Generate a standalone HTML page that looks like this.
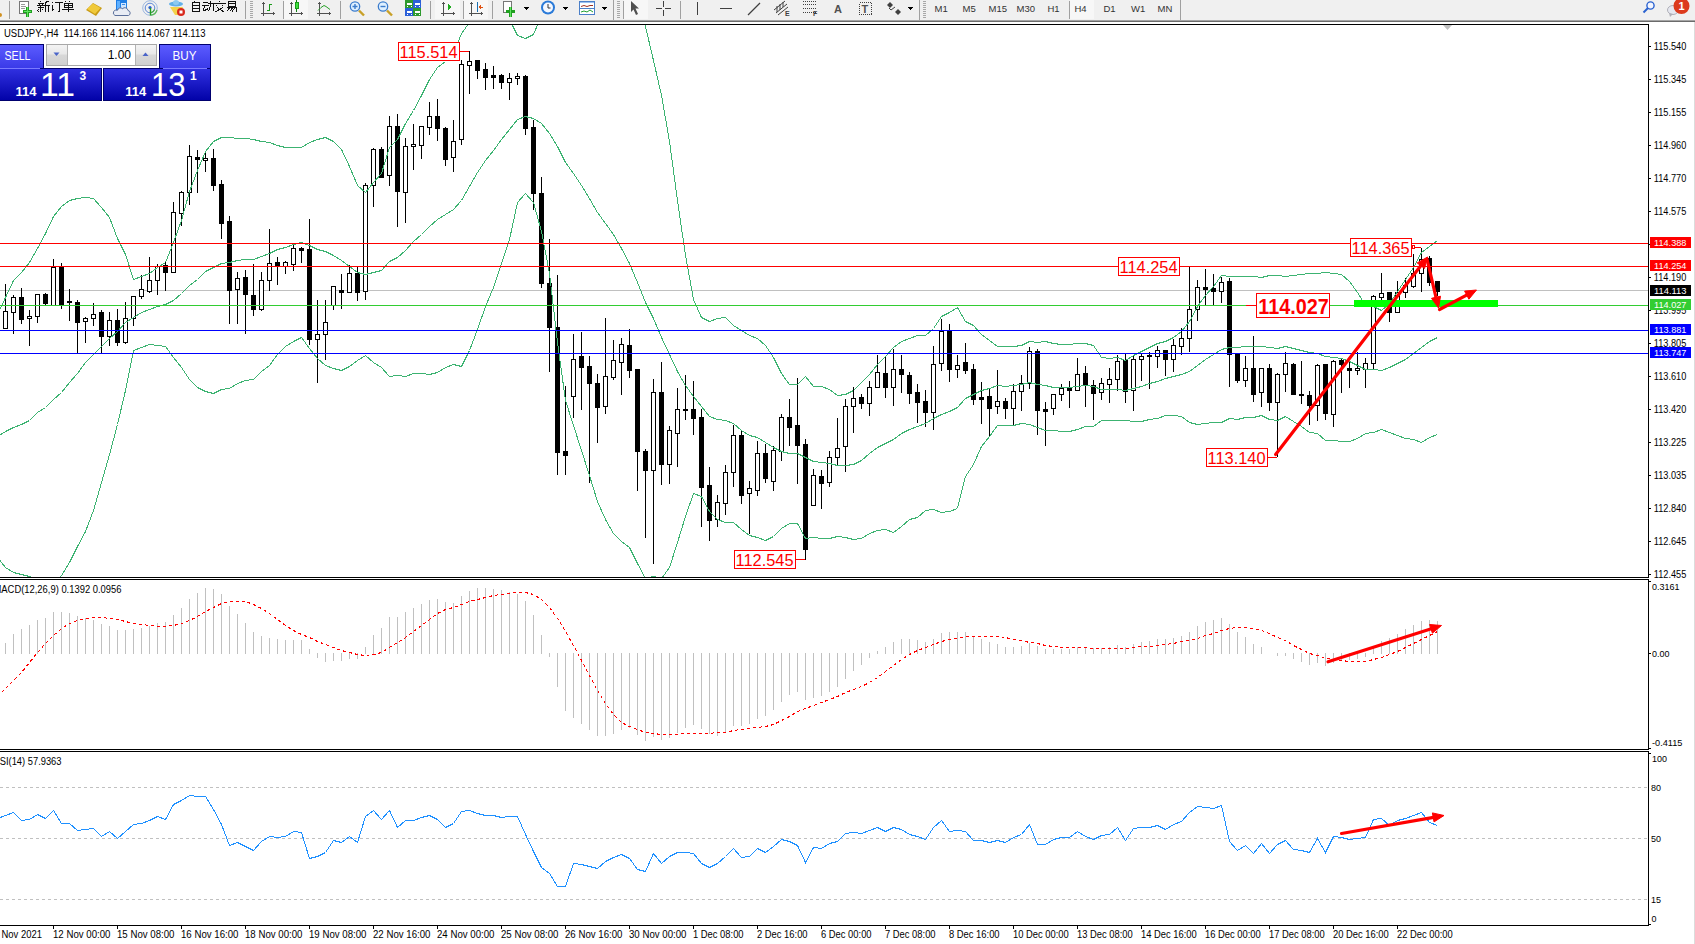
<!DOCTYPE html><html><head><meta charset="utf-8"><title>USDJPY H4</title><style>html,body{margin:0;padding:0;background:#fff;width:1695px;height:944px;overflow:hidden}svg text{font-family:'Liberation Sans',sans-serif}</style></head><body><svg width="1695" height="944" viewBox="0 0 1695 944" style="display:block;font-family:'Liberation Sans',sans-serif" shape-rendering="crispEdges">
<defs><clipPath id="cm"><rect x="0" y="25" width="1648" height="552"/></clipPath><clipPath id="cd"><rect x="0" y="580" width="1648" height="169"/></clipPath><clipPath id="cr"><rect x="0" y="752" width="1648" height="173"/></clipPath><linearGradient id="gSell" x1="0" y1="0" x2="0" y2="1"><stop offset="0" stop-color="#5b5bff"/><stop offset="1" stop-color="#3a3ae8"/></linearGradient><linearGradient id="gPrice" x1="0" y1="0" x2="0" y2="1"><stop offset="0" stop-color="#3030e0"/><stop offset="1" stop-color="#0202a8"/></linearGradient><linearGradient id="gBtn" x1="0" y1="0" x2="0" y2="1"><stop offset="0" stop-color="#f4f4f4"/><stop offset="0.45" stop-color="#e8e8e8"/><stop offset="0.5" stop-color="#d8d8d8"/><stop offset="1" stop-color="#d0d0d0"/></linearGradient></defs>
<rect x="0" y="0" width="1695" height="944" fill="#ffffff"/>
<rect x="0" y="0" width="1695" height="20" fill="#f0f0f0"/>
<rect x="0" y="20" width="1695" height="1" fill="#a5a5a5"/>
<rect x="0" y="21" width="1695" height="1" fill="#6b6b6b"/>
<rect x="0" y="24" width="1649" height="1" fill="#000"/>
<rect x="1648" y="24" width="1" height="554" fill="#000"/>
<rect x="0" y="577" width="1649" height="1" fill="#000"/>
<rect x="0" y="579" width="1649" height="1" fill="#000"/>
<rect x="1648" y="579" width="1" height="171" fill="#000"/>
<rect x="0" y="749" width="1649" height="1" fill="#000"/>
<rect x="0" y="751" width="1649" height="1" fill="#000"/>
<rect x="1648" y="751" width="1" height="175" fill="#000"/>
<rect x="0" y="925" width="1649" height="1" fill="#000"/>
<rect x="1694" y="22" width="1" height="922" fill="#dcdcdc"/>
<g clip-path="url(#cm)">
<rect x="0" y="290" width="1648" height="1" fill="#c0c0c0"/>
<rect x="5" y="284" width="1" height="45" fill="#000"/>
<rect x="3" y="311" width="5" height="18" fill="#000"/>
<rect x="4" y="312" width="3" height="16" fill="#fff"/>
<rect x="13" y="295" width="1" height="39" fill="#000"/>
<rect x="11" y="297" width="5" height="16" fill="#000"/>
<rect x="12" y="298" width="3" height="14" fill="#fff"/>
<rect x="21" y="288" width="1" height="36" fill="#000"/>
<rect x="19" y="297" width="5" height="23" fill="#000"/>
<rect x="29" y="310" width="1" height="36" fill="#000"/>
<rect x="27" y="316" width="5" height="3" fill="#000"/>
<rect x="28" y="317" width="3" height="1" fill="#fff"/>
<rect x="37" y="294" width="1" height="29" fill="#000"/>
<rect x="35" y="294" width="5" height="23" fill="#000"/>
<rect x="36" y="295" width="3" height="21" fill="#fff"/>
<rect x="45" y="293" width="1" height="13" fill="#000"/>
<rect x="43" y="294" width="5" height="10" fill="#000"/>
<rect x="53" y="259" width="1" height="47" fill="#000"/>
<rect x="51" y="267" width="5" height="39" fill="#000"/>
<rect x="52" y="268" width="3" height="37" fill="#fff"/>
<rect x="61" y="263" width="1" height="46" fill="#000"/>
<rect x="59" y="267" width="5" height="38" fill="#000"/>
<rect x="69" y="289" width="1" height="32" fill="#000"/>
<rect x="67" y="301" width="5" height="2" fill="#000"/>
<rect x="77" y="300" width="1" height="54" fill="#000"/>
<rect x="75" y="302" width="5" height="21" fill="#000"/>
<rect x="85" y="317" width="1" height="26" fill="#000"/>
<rect x="83" y="318" width="5" height="4" fill="#000"/>
<rect x="84" y="319" width="3" height="2" fill="#fff"/>
<rect x="93" y="303" width="1" height="23" fill="#000"/>
<rect x="91" y="314" width="5" height="5" fill="#000"/>
<rect x="92" y="315" width="3" height="3" fill="#fff"/>
<rect x="101" y="310" width="1" height="44" fill="#000"/>
<rect x="99" y="312" width="5" height="25" fill="#000"/>
<rect x="109" y="312" width="1" height="34" fill="#000"/>
<rect x="107" y="320" width="5" height="17" fill="#000"/>
<rect x="108" y="321" width="3" height="15" fill="#fff"/>
<rect x="117" y="309" width="1" height="37" fill="#000"/>
<rect x="115" y="320" width="5" height="23" fill="#000"/>
<rect x="125" y="302" width="1" height="42" fill="#000"/>
<rect x="123" y="318" width="5" height="25" fill="#000"/>
<rect x="124" y="319" width="3" height="23" fill="#fff"/>
<rect x="133" y="296" width="1" height="30" fill="#000"/>
<rect x="131" y="296" width="5" height="23" fill="#000"/>
<rect x="132" y="297" width="3" height="21" fill="#fff"/>
<rect x="141" y="275" width="1" height="24" fill="#000"/>
<rect x="139" y="289" width="5" height="8" fill="#000"/>
<rect x="140" y="290" width="3" height="6" fill="#fff"/>
<rect x="149" y="257" width="1" height="36" fill="#000"/>
<rect x="147" y="280" width="5" height="12" fill="#000"/>
<rect x="148" y="281" width="3" height="10" fill="#fff"/>
<rect x="157" y="264" width="1" height="31" fill="#000"/>
<rect x="155" y="266" width="5" height="15" fill="#000"/>
<rect x="156" y="267" width="3" height="13" fill="#fff"/>
<rect x="165" y="261" width="1" height="30" fill="#000"/>
<rect x="163" y="265" width="5" height="8" fill="#000"/>
<rect x="173" y="202" width="1" height="71" fill="#000"/>
<rect x="171" y="212" width="5" height="61" fill="#000"/>
<rect x="172" y="213" width="3" height="59" fill="#fff"/>
<rect x="181" y="191" width="1" height="35" fill="#000"/>
<rect x="179" y="192" width="5" height="22" fill="#000"/>
<rect x="180" y="193" width="3" height="20" fill="#fff"/>
<rect x="189" y="145" width="1" height="60" fill="#000"/>
<rect x="187" y="156" width="5" height="37" fill="#000"/>
<rect x="188" y="157" width="3" height="35" fill="#fff"/>
<rect x="197" y="150" width="1" height="43" fill="#000"/>
<rect x="195" y="157" width="5" height="3" fill="#000"/>
<rect x="205" y="151" width="1" height="21" fill="#000"/>
<rect x="203" y="158" width="5" height="3" fill="#000"/>
<rect x="204" y="159" width="3" height="1" fill="#fff"/>
<rect x="213" y="149" width="1" height="42" fill="#000"/>
<rect x="211" y="158" width="5" height="28" fill="#000"/>
<rect x="221" y="180" width="1" height="59" fill="#000"/>
<rect x="219" y="184" width="5" height="40" fill="#000"/>
<rect x="229" y="216" width="1" height="108" fill="#000"/>
<rect x="227" y="221" width="5" height="70" fill="#000"/>
<rect x="237" y="272" width="1" height="52" fill="#000"/>
<rect x="235" y="278" width="5" height="12" fill="#000"/>
<rect x="236" y="279" width="3" height="10" fill="#fff"/>
<rect x="245" y="270" width="1" height="64" fill="#000"/>
<rect x="243" y="277" width="5" height="18" fill="#000"/>
<rect x="253" y="264" width="1" height="52" fill="#000"/>
<rect x="251" y="295" width="5" height="15" fill="#000"/>
<rect x="261" y="272" width="1" height="39" fill="#000"/>
<rect x="259" y="280" width="5" height="30" fill="#000"/>
<rect x="260" y="281" width="3" height="28" fill="#fff"/>
<rect x="269" y="229" width="1" height="62" fill="#000"/>
<rect x="267" y="263" width="5" height="18" fill="#000"/>
<rect x="268" y="264" width="3" height="16" fill="#fff"/>
<rect x="277" y="257" width="1" height="28" fill="#000"/>
<rect x="275" y="262" width="5" height="5" fill="#000"/>
<rect x="285" y="261" width="1" height="13" fill="#000"/>
<rect x="283" y="262" width="5" height="5" fill="#000"/>
<rect x="284" y="263" width="3" height="3" fill="#fff"/>
<rect x="293" y="243" width="1" height="28" fill="#000"/>
<rect x="291" y="248" width="5" height="17" fill="#000"/>
<rect x="292" y="249" width="3" height="15" fill="#fff"/>
<rect x="301" y="247" width="1" height="16" fill="#000"/>
<rect x="299" y="248" width="5" height="3" fill="#000"/>
<rect x="309" y="219" width="1" height="126" fill="#000"/>
<rect x="307" y="249" width="5" height="91" fill="#000"/>
<rect x="317" y="300" width="1" height="83" fill="#000"/>
<rect x="315" y="334" width="5" height="6" fill="#000"/>
<rect x="316" y="335" width="3" height="4" fill="#fff"/>
<rect x="325" y="300" width="1" height="60" fill="#000"/>
<rect x="323" y="322" width="5" height="13" fill="#000"/>
<rect x="324" y="323" width="3" height="11" fill="#fff"/>
<rect x="333" y="286" width="1" height="24" fill="#000"/>
<rect x="331" y="286" width="5" height="20" fill="#000"/>
<rect x="332" y="287" width="3" height="18" fill="#fff"/>
<rect x="341" y="274" width="1" height="35" fill="#000"/>
<rect x="339" y="290" width="5" height="3" fill="#000"/>
<rect x="349" y="265" width="1" height="28" fill="#000"/>
<rect x="347" y="273" width="5" height="20" fill="#000"/>
<rect x="348" y="274" width="3" height="18" fill="#fff"/>
<rect x="357" y="267" width="1" height="34" fill="#000"/>
<rect x="355" y="273" width="5" height="20" fill="#000"/>
<rect x="365" y="183" width="1" height="117" fill="#000"/>
<rect x="363" y="185" width="5" height="107" fill="#000"/>
<rect x="364" y="186" width="3" height="105" fill="#fff"/>
<rect x="373" y="148" width="1" height="59" fill="#000"/>
<rect x="371" y="149" width="5" height="37" fill="#000"/>
<rect x="372" y="150" width="3" height="35" fill="#fff"/>
<rect x="381" y="147" width="1" height="31" fill="#000"/>
<rect x="379" y="149" width="5" height="29" fill="#000"/>
<rect x="389" y="116" width="1" height="70" fill="#000"/>
<rect x="387" y="126" width="5" height="50" fill="#000"/>
<rect x="388" y="127" width="3" height="48" fill="#fff"/>
<rect x="397" y="114" width="1" height="113" fill="#000"/>
<rect x="395" y="126" width="5" height="66" fill="#000"/>
<rect x="405" y="138" width="1" height="85" fill="#000"/>
<rect x="403" y="146" width="5" height="47" fill="#000"/>
<rect x="404" y="147" width="3" height="45" fill="#fff"/>
<rect x="413" y="124" width="1" height="46" fill="#000"/>
<rect x="411" y="144" width="5" height="3" fill="#000"/>
<rect x="412" y="145" width="3" height="1" fill="#fff"/>
<rect x="421" y="126" width="1" height="33" fill="#000"/>
<rect x="419" y="126" width="5" height="20" fill="#000"/>
<rect x="420" y="127" width="3" height="18" fill="#fff"/>
<rect x="429" y="102" width="1" height="33" fill="#000"/>
<rect x="427" y="116" width="5" height="12" fill="#000"/>
<rect x="428" y="117" width="3" height="10" fill="#fff"/>
<rect x="437" y="99" width="1" height="42" fill="#000"/>
<rect x="435" y="116" width="5" height="13" fill="#000"/>
<rect x="445" y="127" width="1" height="39" fill="#000"/>
<rect x="443" y="128" width="5" height="32" fill="#000"/>
<rect x="453" y="120" width="1" height="52" fill="#000"/>
<rect x="451" y="141" width="5" height="17" fill="#000"/>
<rect x="452" y="142" width="3" height="15" fill="#fff"/>
<rect x="461" y="60" width="1" height="85" fill="#000"/>
<rect x="459" y="64" width="5" height="76" fill="#000"/>
<rect x="460" y="65" width="3" height="74" fill="#fff"/>
<rect x="469" y="51" width="1" height="43" fill="#000"/>
<rect x="467" y="61" width="5" height="5" fill="#000"/>
<rect x="468" y="62" width="3" height="3" fill="#fff"/>
<rect x="477" y="60" width="1" height="19" fill="#000"/>
<rect x="475" y="60" width="5" height="11" fill="#000"/>
<rect x="485" y="63" width="1" height="27" fill="#000"/>
<rect x="483" y="69" width="5" height="9" fill="#000"/>
<rect x="493" y="66" width="1" height="23" fill="#000"/>
<rect x="491" y="75" width="5" height="3" fill="#000"/>
<rect x="501" y="74" width="1" height="15" fill="#000"/>
<rect x="499" y="75" width="5" height="8" fill="#000"/>
<rect x="509" y="73" width="1" height="27" fill="#000"/>
<rect x="507" y="78" width="5" height="5" fill="#000"/>
<rect x="508" y="79" width="3" height="3" fill="#fff"/>
<rect x="517" y="73" width="1" height="12" fill="#000"/>
<rect x="515" y="76" width="5" height="3" fill="#000"/>
<rect x="516" y="77" width="3" height="1" fill="#fff"/>
<rect x="525" y="75" width="1" height="60" fill="#000"/>
<rect x="523" y="76" width="5" height="53" fill="#000"/>
<rect x="533" y="120" width="1" height="90" fill="#000"/>
<rect x="531" y="127" width="5" height="67" fill="#000"/>
<rect x="541" y="177" width="1" height="111" fill="#000"/>
<rect x="539" y="193" width="5" height="91" fill="#000"/>
<rect x="549" y="239" width="1" height="133" fill="#000"/>
<rect x="547" y="283" width="5" height="45" fill="#000"/>
<rect x="557" y="275" width="1" height="200" fill="#000"/>
<rect x="555" y="327" width="5" height="126" fill="#000"/>
<rect x="565" y="386" width="1" height="89" fill="#000"/>
<rect x="563" y="451" width="5" height="5" fill="#000"/>
<rect x="573" y="334" width="1" height="84" fill="#000"/>
<rect x="571" y="359" width="5" height="38" fill="#000"/>
<rect x="572" y="360" width="3" height="36" fill="#fff"/>
<rect x="581" y="332" width="1" height="78" fill="#000"/>
<rect x="579" y="356" width="5" height="12" fill="#000"/>
<rect x="589" y="356" width="1" height="127" fill="#000"/>
<rect x="587" y="366" width="5" height="18" fill="#000"/>
<rect x="597" y="374" width="1" height="69" fill="#000"/>
<rect x="595" y="383" width="5" height="25" fill="#000"/>
<rect x="605" y="318" width="1" height="96" fill="#000"/>
<rect x="603" y="376" width="5" height="31" fill="#000"/>
<rect x="604" y="377" width="3" height="29" fill="#fff"/>
<rect x="613" y="340" width="1" height="40" fill="#000"/>
<rect x="611" y="360" width="5" height="18" fill="#000"/>
<rect x="612" y="361" width="3" height="16" fill="#fff"/>
<rect x="621" y="338" width="1" height="57" fill="#000"/>
<rect x="619" y="344" width="5" height="19" fill="#000"/>
<rect x="620" y="345" width="3" height="17" fill="#fff"/>
<rect x="629" y="329" width="1" height="49" fill="#000"/>
<rect x="627" y="345" width="5" height="26" fill="#000"/>
<rect x="637" y="369" width="1" height="122" fill="#000"/>
<rect x="635" y="369" width="5" height="83" fill="#000"/>
<rect x="645" y="449" width="1" height="89" fill="#000"/>
<rect x="643" y="451" width="5" height="20" fill="#000"/>
<rect x="653" y="379" width="1" height="185" fill="#000"/>
<rect x="651" y="392" width="5" height="79" fill="#000"/>
<rect x="652" y="393" width="3" height="77" fill="#fff"/>
<rect x="661" y="362" width="1" height="123" fill="#000"/>
<rect x="659" y="392" width="5" height="73" fill="#000"/>
<rect x="669" y="426" width="1" height="58" fill="#000"/>
<rect x="667" y="430" width="5" height="35" fill="#000"/>
<rect x="668" y="431" width="3" height="33" fill="#fff"/>
<rect x="677" y="388" width="1" height="79" fill="#000"/>
<rect x="675" y="409" width="5" height="25" fill="#000"/>
<rect x="676" y="410" width="3" height="23" fill="#fff"/>
<rect x="685" y="375" width="1" height="45" fill="#000"/>
<rect x="683" y="409" width="5" height="2" fill="#000"/>
<rect x="693" y="381" width="1" height="54" fill="#000"/>
<rect x="691" y="409" width="5" height="10" fill="#000"/>
<rect x="701" y="409" width="1" height="118" fill="#000"/>
<rect x="699" y="417" width="5" height="71" fill="#000"/>
<rect x="709" y="467" width="1" height="74" fill="#000"/>
<rect x="707" y="485" width="5" height="36" fill="#000"/>
<rect x="717" y="495" width="1" height="32" fill="#000"/>
<rect x="715" y="502" width="5" height="18" fill="#000"/>
<rect x="716" y="503" width="3" height="16" fill="#fff"/>
<rect x="725" y="465" width="1" height="50" fill="#000"/>
<rect x="723" y="472" width="5" height="32" fill="#000"/>
<rect x="724" y="473" width="3" height="30" fill="#fff"/>
<rect x="733" y="425" width="1" height="62" fill="#000"/>
<rect x="731" y="435" width="5" height="38" fill="#000"/>
<rect x="732" y="436" width="3" height="36" fill="#fff"/>
<rect x="741" y="431" width="1" height="73" fill="#000"/>
<rect x="739" y="435" width="5" height="61" fill="#000"/>
<rect x="749" y="481" width="1" height="53" fill="#000"/>
<rect x="747" y="488" width="5" height="6" fill="#000"/>
<rect x="748" y="489" width="3" height="4" fill="#fff"/>
<rect x="757" y="441" width="1" height="55" fill="#000"/>
<rect x="755" y="453" width="5" height="38" fill="#000"/>
<rect x="756" y="454" width="3" height="36" fill="#fff"/>
<rect x="765" y="444" width="1" height="39" fill="#000"/>
<rect x="763" y="453" width="5" height="26" fill="#000"/>
<rect x="773" y="446" width="1" height="45" fill="#000"/>
<rect x="771" y="450" width="5" height="32" fill="#000"/>
<rect x="772" y="451" width="3" height="30" fill="#fff"/>
<rect x="781" y="414" width="1" height="47" fill="#000"/>
<rect x="779" y="417" width="5" height="35" fill="#000"/>
<rect x="780" y="418" width="3" height="33" fill="#fff"/>
<rect x="789" y="399" width="1" height="47" fill="#000"/>
<rect x="787" y="417" width="5" height="11" fill="#000"/>
<rect x="797" y="378" width="1" height="106" fill="#000"/>
<rect x="795" y="425" width="5" height="21" fill="#000"/>
<rect x="805" y="439" width="1" height="121" fill="#000"/>
<rect x="803" y="444" width="5" height="106" fill="#000"/>
<rect x="813" y="469" width="1" height="37" fill="#000"/>
<rect x="811" y="475" width="5" height="31" fill="#000"/>
<rect x="812" y="476" width="3" height="29" fill="#fff"/>
<rect x="821" y="470" width="1" height="39" fill="#000"/>
<rect x="819" y="476" width="5" height="8" fill="#000"/>
<rect x="829" y="451" width="1" height="36" fill="#000"/>
<rect x="827" y="457" width="5" height="26" fill="#000"/>
<rect x="828" y="458" width="3" height="24" fill="#fff"/>
<rect x="837" y="418" width="1" height="47" fill="#000"/>
<rect x="835" y="448" width="5" height="10" fill="#000"/>
<rect x="836" y="449" width="3" height="8" fill="#fff"/>
<rect x="845" y="399" width="1" height="73" fill="#000"/>
<rect x="843" y="406" width="5" height="41" fill="#000"/>
<rect x="844" y="407" width="3" height="39" fill="#fff"/>
<rect x="853" y="387" width="1" height="46" fill="#000"/>
<rect x="851" y="398" width="5" height="9" fill="#000"/>
<rect x="852" y="399" width="3" height="7" fill="#fff"/>
<rect x="861" y="394" width="1" height="15" fill="#000"/>
<rect x="859" y="397" width="5" height="7" fill="#000"/>
<rect x="869" y="381" width="1" height="35" fill="#000"/>
<rect x="867" y="387" width="5" height="17" fill="#000"/>
<rect x="868" y="388" width="3" height="15" fill="#fff"/>
<rect x="877" y="355" width="1" height="33" fill="#000"/>
<rect x="875" y="372" width="5" height="16" fill="#000"/>
<rect x="876" y="373" width="3" height="14" fill="#fff"/>
<rect x="885" y="356" width="1" height="42" fill="#000"/>
<rect x="883" y="373" width="5" height="15" fill="#000"/>
<rect x="893" y="349" width="1" height="57" fill="#000"/>
<rect x="891" y="369" width="5" height="19" fill="#000"/>
<rect x="892" y="370" width="3" height="17" fill="#fff"/>
<rect x="901" y="355" width="1" height="38" fill="#000"/>
<rect x="899" y="369" width="5" height="6" fill="#000"/>
<rect x="909" y="372" width="1" height="32" fill="#000"/>
<rect x="907" y="375" width="5" height="19" fill="#000"/>
<rect x="917" y="384" width="1" height="39" fill="#000"/>
<rect x="915" y="392" width="5" height="11" fill="#000"/>
<rect x="925" y="390" width="1" height="37" fill="#000"/>
<rect x="923" y="401" width="5" height="12" fill="#000"/>
<rect x="933" y="346" width="1" height="84" fill="#000"/>
<rect x="931" y="364" width="5" height="49" fill="#000"/>
<rect x="932" y="365" width="3" height="47" fill="#fff"/>
<rect x="941" y="319" width="1" height="52" fill="#000"/>
<rect x="939" y="331" width="5" height="33" fill="#000"/>
<rect x="940" y="332" width="3" height="31" fill="#fff"/>
<rect x="949" y="324" width="1" height="58" fill="#000"/>
<rect x="947" y="331" width="5" height="39" fill="#000"/>
<rect x="957" y="355" width="1" height="23" fill="#000"/>
<rect x="955" y="365" width="5" height="5" fill="#000"/>
<rect x="956" y="366" width="3" height="3" fill="#fff"/>
<rect x="965" y="343" width="1" height="31" fill="#000"/>
<rect x="963" y="362" width="5" height="9" fill="#000"/>
<rect x="973" y="364" width="1" height="41" fill="#000"/>
<rect x="971" y="369" width="5" height="31" fill="#000"/>
<rect x="981" y="382" width="1" height="42" fill="#000"/>
<rect x="979" y="397" width="5" height="3" fill="#000"/>
<rect x="989" y="388" width="1" height="49" fill="#000"/>
<rect x="987" y="396" width="5" height="13" fill="#000"/>
<rect x="997" y="370" width="1" height="44" fill="#000"/>
<rect x="995" y="401" width="5" height="6" fill="#000"/>
<rect x="996" y="402" width="3" height="4" fill="#fff"/>
<rect x="1005" y="398" width="1" height="21" fill="#000"/>
<rect x="1003" y="401" width="5" height="8" fill="#000"/>
<rect x="1013" y="384" width="1" height="42" fill="#000"/>
<rect x="1011" y="391" width="5" height="18" fill="#000"/>
<rect x="1012" y="392" width="3" height="16" fill="#fff"/>
<rect x="1021" y="375" width="1" height="36" fill="#000"/>
<rect x="1019" y="383" width="5" height="9" fill="#000"/>
<rect x="1020" y="384" width="3" height="7" fill="#fff"/>
<rect x="1029" y="347" width="1" height="42" fill="#000"/>
<rect x="1027" y="351" width="5" height="33" fill="#000"/>
<rect x="1028" y="352" width="3" height="31" fill="#fff"/>
<rect x="1037" y="349" width="1" height="86" fill="#000"/>
<rect x="1035" y="351" width="5" height="60" fill="#000"/>
<rect x="1045" y="402" width="1" height="44" fill="#000"/>
<rect x="1043" y="409" width="5" height="3" fill="#000"/>
<rect x="1053" y="394" width="1" height="21" fill="#000"/>
<rect x="1051" y="394" width="5" height="15" fill="#000"/>
<rect x="1052" y="395" width="3" height="13" fill="#fff"/>
<rect x="1061" y="384" width="1" height="17" fill="#000"/>
<rect x="1059" y="388" width="5" height="7" fill="#000"/>
<rect x="1060" y="389" width="3" height="5" fill="#fff"/>
<rect x="1069" y="381" width="1" height="27" fill="#000"/>
<rect x="1067" y="387" width="5" height="4" fill="#000"/>
<rect x="1077" y="358" width="1" height="33" fill="#000"/>
<rect x="1075" y="374" width="5" height="17" fill="#000"/>
<rect x="1076" y="375" width="3" height="15" fill="#fff"/>
<rect x="1085" y="366" width="1" height="41" fill="#000"/>
<rect x="1083" y="373" width="5" height="13" fill="#000"/>
<rect x="1093" y="380" width="1" height="40" fill="#000"/>
<rect x="1091" y="385" width="5" height="9" fill="#000"/>
<rect x="1101" y="378" width="1" height="22" fill="#000"/>
<rect x="1099" y="383" width="5" height="10" fill="#000"/>
<rect x="1100" y="384" width="3" height="8" fill="#fff"/>
<rect x="1109" y="368" width="1" height="35" fill="#000"/>
<rect x="1107" y="379" width="5" height="6" fill="#000"/>
<rect x="1108" y="380" width="3" height="4" fill="#fff"/>
<rect x="1117" y="355" width="1" height="36" fill="#000"/>
<rect x="1115" y="361" width="5" height="19" fill="#000"/>
<rect x="1116" y="362" width="3" height="17" fill="#fff"/>
<rect x="1125" y="353" width="1" height="50" fill="#000"/>
<rect x="1123" y="360" width="5" height="32" fill="#000"/>
<rect x="1133" y="356" width="1" height="55" fill="#000"/>
<rect x="1131" y="359" width="5" height="32" fill="#000"/>
<rect x="1132" y="360" width="3" height="30" fill="#fff"/>
<rect x="1141" y="353" width="1" height="28" fill="#000"/>
<rect x="1139" y="356" width="5" height="4" fill="#000"/>
<rect x="1140" y="357" width="3" height="2" fill="#fff"/>
<rect x="1149" y="352" width="1" height="37" fill="#000"/>
<rect x="1147" y="355" width="5" height="2" fill="#000"/>
<rect x="1157" y="346" width="1" height="22" fill="#000"/>
<rect x="1155" y="350" width="5" height="7" fill="#000"/>
<rect x="1156" y="351" width="3" height="5" fill="#fff"/>
<rect x="1165" y="350" width="1" height="26" fill="#000"/>
<rect x="1163" y="350" width="5" height="10" fill="#000"/>
<rect x="1173" y="339" width="1" height="33" fill="#000"/>
<rect x="1171" y="345" width="5" height="15" fill="#000"/>
<rect x="1172" y="346" width="3" height="13" fill="#fff"/>
<rect x="1181" y="328" width="1" height="27" fill="#000"/>
<rect x="1179" y="338" width="5" height="9" fill="#000"/>
<rect x="1180" y="339" width="3" height="7" fill="#fff"/>
<rect x="1189" y="267" width="1" height="85" fill="#000"/>
<rect x="1187" y="309" width="5" height="30" fill="#000"/>
<rect x="1188" y="310" width="3" height="28" fill="#fff"/>
<rect x="1197" y="280" width="1" height="41" fill="#000"/>
<rect x="1195" y="287" width="5" height="23" fill="#000"/>
<rect x="1196" y="288" width="3" height="21" fill="#fff"/>
<rect x="1205" y="269" width="1" height="37" fill="#000"/>
<rect x="1203" y="287" width="5" height="3" fill="#000"/>
<rect x="1213" y="274" width="1" height="32" fill="#000"/>
<rect x="1211" y="288" width="5" height="4" fill="#000"/>
<rect x="1221" y="277" width="1" height="26" fill="#000"/>
<rect x="1219" y="282" width="5" height="10" fill="#000"/>
<rect x="1220" y="283" width="3" height="8" fill="#fff"/>
<rect x="1229" y="278" width="1" height="109" fill="#000"/>
<rect x="1227" y="281" width="5" height="74" fill="#000"/>
<rect x="1237" y="354" width="1" height="29" fill="#000"/>
<rect x="1235" y="354" width="5" height="27" fill="#000"/>
<rect x="1245" y="356" width="1" height="31" fill="#000"/>
<rect x="1243" y="368" width="5" height="13" fill="#000"/>
<rect x="1244" y="369" width="3" height="11" fill="#fff"/>
<rect x="1253" y="336" width="1" height="66" fill="#000"/>
<rect x="1251" y="368" width="5" height="27" fill="#000"/>
<rect x="1261" y="368" width="1" height="39" fill="#000"/>
<rect x="1259" y="368" width="5" height="25" fill="#000"/>
<rect x="1260" y="369" width="3" height="23" fill="#fff"/>
<rect x="1269" y="364" width="1" height="47" fill="#000"/>
<rect x="1267" y="368" width="5" height="35" fill="#000"/>
<rect x="1277" y="373" width="1" height="84" fill="#000"/>
<rect x="1275" y="374" width="5" height="29" fill="#000"/>
<rect x="1276" y="375" width="3" height="27" fill="#fff"/>
<rect x="1285" y="352" width="1" height="40" fill="#000"/>
<rect x="1283" y="363" width="5" height="12" fill="#000"/>
<rect x="1284" y="364" width="3" height="10" fill="#fff"/>
<rect x="1293" y="363" width="1" height="32" fill="#000"/>
<rect x="1291" y="364" width="5" height="31" fill="#000"/>
<rect x="1301" y="361" width="1" height="43" fill="#000"/>
<rect x="1299" y="394" width="5" height="2" fill="#000"/>
<rect x="1309" y="391" width="1" height="34" fill="#000"/>
<rect x="1307" y="395" width="5" height="11" fill="#000"/>
<rect x="1317" y="364" width="1" height="57" fill="#000"/>
<rect x="1315" y="365" width="5" height="41" fill="#000"/>
<rect x="1316" y="366" width="3" height="39" fill="#fff"/>
<rect x="1325" y="364" width="1" height="56" fill="#000"/>
<rect x="1323" y="364" width="5" height="50" fill="#000"/>
<rect x="1333" y="360" width="1" height="67" fill="#000"/>
<rect x="1331" y="361" width="5" height="54" fill="#000"/>
<rect x="1332" y="362" width="3" height="52" fill="#fff"/>
<rect x="1341" y="358" width="1" height="35" fill="#000"/>
<rect x="1339" y="360" width="5" height="5" fill="#000"/>
<rect x="1349" y="361" width="1" height="27" fill="#000"/>
<rect x="1347" y="368" width="5" height="3" fill="#000"/>
<rect x="1357" y="352" width="1" height="23" fill="#000"/>
<rect x="1355" y="368" width="5" height="3" fill="#000"/>
<rect x="1356" y="369" width="3" height="1" fill="#fff"/>
<rect x="1365" y="358" width="1" height="30" fill="#000"/>
<rect x="1363" y="363" width="5" height="7" fill="#000"/>
<rect x="1364" y="364" width="3" height="5" fill="#fff"/>
<rect x="1373" y="295" width="1" height="75" fill="#000"/>
<rect x="1371" y="296" width="5" height="68" fill="#000"/>
<rect x="1372" y="297" width="3" height="66" fill="#fff"/>
<rect x="1381" y="273" width="1" height="27" fill="#000"/>
<rect x="1379" y="293" width="5" height="5" fill="#000"/>
<rect x="1380" y="294" width="3" height="3" fill="#fff"/>
<rect x="1389" y="292" width="1" height="30" fill="#000"/>
<rect x="1387" y="292" width="5" height="21" fill="#000"/>
<rect x="1397" y="281" width="1" height="32" fill="#000"/>
<rect x="1395" y="292" width="5" height="21" fill="#000"/>
<rect x="1396" y="293" width="3" height="19" fill="#fff"/>
<rect x="1405" y="278" width="1" height="20" fill="#000"/>
<rect x="1403" y="285" width="5" height="8" fill="#000"/>
<rect x="1404" y="286" width="3" height="6" fill="#fff"/>
<rect x="1413" y="254" width="1" height="34" fill="#000"/>
<rect x="1411" y="273" width="5" height="14" fill="#000"/>
<rect x="1412" y="274" width="3" height="12" fill="#fff"/>
<rect x="1421" y="248" width="1" height="44" fill="#000"/>
<rect x="1419" y="259" width="5" height="15" fill="#000"/>
<rect x="1420" y="260" width="3" height="13" fill="#fff"/>
<rect x="1429" y="256" width="1" height="30" fill="#000"/>
<rect x="1427" y="258" width="5" height="25" fill="#000"/>
<rect x="1437" y="281" width="1" height="15" fill="#000"/>
<rect x="1435" y="281" width="5" height="11" fill="#000"/>
<polyline points="-2.5,314.5 5.5,297.5 13.5,280.5 21.5,272.5 29.5,262.5 37.5,248.5 45.5,233.5 53.5,216.5 61.5,206.5 69.5,200.5 77.5,198.5 85.5,197.5 93.5,198.5 101.5,207.5 109.5,217.5 117.5,238.5 125.5,254.5 133.5,279.5 141.5,276.5 149.5,273.5 157.5,267.5 165.5,262.5 173.5,242.5 181.5,220.5 189.5,191.5 197.5,170.5 205.5,151.5 213.5,141.5 221.5,137.5 229.5,137.5 237.5,138.5 245.5,138.5 253.5,139.5 261.5,141.5 269.5,142.5 277.5,145.5 285.5,147.5 293.5,147.5 301.5,147.5 309.5,142.5 317.5,139.5 325.5,137.5 333.5,141.5 341.5,149.5 349.5,166.5 357.5,185.5 365.5,192.5 373.5,182.5 381.5,173.5 389.5,147.5 397.5,139.5 405.5,123.5 413.5,110.5 421.5,95.5 429.5,79.5 437.5,67.5 445.5,61.5 453.5,53.5 461.5,33.5 469.5,22.5 477.5,16.5 485.5,15.5 493.5,12.5 501.5,15.5 509.5,19.5 517.5,35.5 525.5,38.5 533.5,34.5 541.5,15.5 549.5,-5.5 557.5,-49.5 565.5,-75.5 573.5,-79.5 581.5,-80.5 589.5,-78.5 597.5,-76.5 605.5,-73.5 613.5,-65.5 621.5,-44.5 629.5,-20.5 637.5,1.5 645.5,26.5 653.5,60.5 661.5,95.5 669.5,141.5 677.5,200.5 685.5,255.5 693.5,299.5 701.5,317.5 709.5,321.5 717.5,318.5 725.5,317.5 733.5,325.5 741.5,330.5 749.5,335.5 757.5,338.5 765.5,345.5 773.5,357.5 781.5,373.5 789.5,384.5 797.5,384.5 805.5,376.5 813.5,386.5 821.5,386.5 829.5,389.5 837.5,395.5 845.5,394.5 853.5,390.5 861.5,382.5 869.5,374.5 877.5,364.5 885.5,356.5 893.5,347.5 901.5,341.5 909.5,338.5 917.5,335.5 925.5,335.5 933.5,328.5 941.5,316.5 949.5,312.5 957.5,307.5 965.5,321.5 973.5,325.5 981.5,334.5 989.5,340.5 997.5,346.5 1005.5,346.5 1013.5,346.5 1021.5,345.5 1029.5,341.5 1037.5,342.5 1045.5,341.5 1053.5,343.5 1061.5,344.5 1069.5,344.5 1077.5,343.5 1085.5,343.5 1093.5,345.5 1101.5,357.5 1109.5,358.5 1117.5,357.5 1125.5,360.5 1133.5,355.5 1141.5,351.5 1149.5,347.5 1157.5,343.5 1165.5,341.5 1173.5,337.5 1181.5,331.5 1189.5,321.5 1197.5,306.5 1205.5,295.5 1213.5,286.5 1221.5,275.5 1229.5,276.5 1237.5,276.5 1245.5,276.5 1253.5,276.5 1261.5,277.5 1269.5,275.5 1277.5,275.5 1285.5,276.5 1293.5,275.5 1301.5,274.5 1309.5,273.5 1317.5,273.5 1325.5,272.5 1333.5,273.5 1341.5,274.5 1349.5,281.5 1357.5,292.5 1365.5,305.5 1373.5,306.5 1381.5,310.5 1389.5,303.5 1397.5,291.5 1405.5,279.5 1413.5,267.5 1421.5,252.5 1429.5,246.5 1437.5,240.5" fill="none" stroke="#3cb371" stroke-width="1"/>
<polyline points="-2.5,436.5 5.5,431.5 13.5,427.5 21.5,424.5 29.5,420.5 37.5,412.5 45.5,407.5 53.5,399.5 61.5,392.5 69.5,382.5 77.5,373.5 85.5,362.5 93.5,354.5 101.5,346.5 109.5,338.5 117.5,331.5 125.5,322.5 133.5,317.5 141.5,312.5 149.5,309.5 157.5,306.5 165.5,304.5 173.5,300.5 181.5,293.5 189.5,285.5 197.5,279.5 205.5,271.5 213.5,267.5 221.5,263.5 229.5,262.5 237.5,260.5 245.5,259.5 253.5,259.5 261.5,256.5 269.5,253.5 277.5,249.5 285.5,247.5 293.5,244.5 301.5,242.5 309.5,245.5 317.5,249.5 325.5,251.5 333.5,255.5 341.5,260.5 349.5,266.5 357.5,272.5 365.5,274.5 373.5,272.5 381.5,270.5 389.5,261.5 397.5,257.5 405.5,250.5 413.5,241.5 421.5,234.5 429.5,226.5 437.5,219.5 445.5,214.5 453.5,209.5 461.5,200.5 469.5,186.5 477.5,172.5 485.5,160.5 493.5,150.5 501.5,139.5 509.5,129.5 517.5,119.5 525.5,116.5 533.5,118.5 541.5,123.5 549.5,133.5 557.5,146.5 565.5,162.5 573.5,173.5 581.5,185.5 589.5,198.5 597.5,212.5 605.5,223.5 613.5,234.5 621.5,248.5 629.5,263.5 637.5,282.5 645.5,302.5 653.5,318.5 661.5,337.5 669.5,354.5 677.5,371.5 685.5,385.5 693.5,396.5 701.5,406.5 709.5,416.5 717.5,419.5 725.5,420.5 733.5,423.5 741.5,430.5 749.5,435.5 757.5,437.5 765.5,442.5 773.5,447.5 781.5,451.5 789.5,453.5 797.5,453.5 805.5,457.5 813.5,461.5 821.5,462.5 829.5,463.5 837.5,465.5 845.5,465.5 853.5,464.5 861.5,460.5 869.5,453.5 877.5,447.5 885.5,443.5 893.5,439.5 901.5,433.5 909.5,429.5 917.5,426.5 925.5,423.5 933.5,418.5 941.5,414.5 949.5,411.5 957.5,407.5 965.5,398.5 973.5,394.5 981.5,390.5 989.5,388.5 997.5,385.5 1005.5,386.5 1013.5,385.5 1021.5,384.5 1029.5,382.5 1037.5,384.5 1045.5,385.5 1053.5,387.5 1061.5,387.5 1069.5,387.5 1077.5,386.5 1085.5,385.5 1093.5,386.5 1101.5,389.5 1109.5,389.5 1117.5,389.5 1125.5,390.5 1133.5,388.5 1141.5,386.5 1149.5,383.5 1157.5,381.5 1165.5,378.5 1173.5,376.5 1181.5,374.5 1189.5,371.5 1197.5,365.5 1205.5,359.5 1213.5,354.5 1221.5,349.5 1229.5,347.5 1237.5,347.5 1245.5,346.5 1253.5,346.5 1261.5,346.5 1269.5,347.5 1277.5,348.5 1285.5,346.5 1293.5,348.5 1301.5,350.5 1309.5,352.5 1317.5,353.5 1325.5,356.5 1333.5,357.5 1341.5,358.5 1349.5,361.5 1357.5,365.5 1365.5,369.5 1373.5,369.5 1381.5,370.5 1389.5,367.5 1397.5,363.5 1405.5,359.5 1413.5,353.5 1421.5,347.5 1429.5,341.5 1437.5,337.5" fill="none" stroke="#3cb371" stroke-width="1"/>
<polyline points="-2.5,557.5 5.5,567.5 13.5,572.5 21.5,574.5 29.5,576.5 37.5,580.5 45.5,585.5 53.5,589.5 61.5,575.5 69.5,562.5 77.5,546.5 85.5,531.5 93.5,510.5 101.5,482.5 109.5,454.5 117.5,424.5 125.5,390.5 133.5,350.5 141.5,347.5 149.5,344.5 157.5,345.5 165.5,346.5 173.5,357.5 181.5,367.5 189.5,379.5 197.5,387.5 205.5,391.5 213.5,393.5 221.5,389.5 229.5,388.5 237.5,383.5 245.5,380.5 253.5,379.5 261.5,371.5 269.5,365.5 277.5,354.5 285.5,346.5 293.5,341.5 301.5,337.5 309.5,348.5 317.5,358.5 325.5,365.5 333.5,368.5 341.5,370.5 349.5,366.5 357.5,360.5 365.5,355.5 373.5,362.5 381.5,367.5 389.5,376.5 397.5,375.5 405.5,376.5 413.5,373.5 421.5,373.5 429.5,374.5 437.5,372.5 445.5,367.5 453.5,364.5 461.5,366.5 469.5,350.5 477.5,329.5 485.5,306.5 493.5,287.5 501.5,263.5 509.5,239.5 517.5,202.5 525.5,193.5 533.5,202.5 541.5,231.5 549.5,273.5 557.5,342.5 565.5,400.5 573.5,425.5 581.5,450.5 589.5,475.5 597.5,501.5 605.5,519.5 613.5,533.5 621.5,541.5 629.5,547.5 637.5,563.5 645.5,578.5 653.5,576.5 661.5,578.5 669.5,567.5 677.5,542.5 685.5,516.5 693.5,493.5 701.5,496.5 709.5,511.5 717.5,519.5 725.5,522.5 733.5,522.5 741.5,529.5 749.5,535.5 757.5,537.5 765.5,540.5 773.5,536.5 781.5,528.5 789.5,523.5 797.5,523.5 805.5,538.5 813.5,537.5 821.5,538.5 829.5,538.5 837.5,536.5 845.5,537.5 853.5,539.5 861.5,538.5 869.5,533.5 877.5,530.5 885.5,529.5 893.5,532.5 901.5,526.5 909.5,519.5 917.5,517.5 925.5,510.5 933.5,509.5 941.5,512.5 949.5,511.5 957.5,508.5 965.5,476.5 973.5,464.5 981.5,446.5 989.5,436.5 997.5,425.5 1005.5,425.5 1013.5,425.5 1021.5,423.5 1029.5,424.5 1037.5,427.5 1045.5,430.5 1053.5,430.5 1061.5,431.5 1069.5,431.5 1077.5,429.5 1085.5,426.5 1093.5,426.5 1101.5,420.5 1109.5,420.5 1117.5,420.5 1125.5,420.5 1133.5,421.5 1141.5,421.5 1149.5,419.5 1157.5,418.5 1165.5,415.5 1173.5,415.5 1181.5,416.5 1189.5,422.5 1197.5,424.5 1205.5,423.5 1213.5,422.5 1221.5,422.5 1229.5,418.5 1237.5,419.5 1245.5,417.5 1253.5,417.5 1261.5,415.5 1269.5,419.5 1277.5,420.5 1285.5,416.5 1293.5,421.5 1301.5,426.5 1309.5,432.5 1317.5,433.5 1325.5,440.5 1333.5,440.5 1341.5,441.5 1349.5,441.5 1357.5,438.5 1365.5,433.5 1373.5,432.5 1381.5,429.5 1389.5,432.5 1397.5,435.5 1405.5,438.5 1413.5,439.5 1421.5,442.5 1429.5,437.5 1437.5,434.5" fill="none" stroke="#3cb371" stroke-width="1"/>
<rect x="0" y="243" width="1648" height="1" fill="#ff0000"/>
<rect x="0" y="266" width="1648" height="1" fill="#ff0000"/>
<rect x="0" y="305" width="1648" height="1" fill="#32cd32"/>
<rect x="0" y="330" width="1648" height="1" fill="#0000ff"/>
<rect x="0" y="353" width="1648" height="1" fill="#0000ff"/>
<rect x="1354" y="300" width="144" height="7" fill="#00ff00"/>
<rect x="398" y="42" width="62" height="19" fill="#ff0000"/>
<rect x="399" y="43" width="60" height="17" fill="#ffffff"/>
<text x="399.6" y="58.3" font-size="16.6" fill="#ff0000" text-anchor="start" font-weight="normal" shape-rendering="auto" textLength="58" lengthAdjust="spacingAndGlyphs">115.514</text>
<rect x="460" y="51" width="9" height="1" fill="#ff0000"/>
<rect x="1118" y="257" width="62" height="19" fill="#ff0000"/>
<rect x="1119" y="258" width="60" height="17" fill="#ffffff"/>
<text x="1119.6" y="273.3" font-size="16.6" fill="#ff0000" text-anchor="start" font-weight="normal" shape-rendering="auto" textLength="58" lengthAdjust="spacingAndGlyphs">114.254</text>
<rect x="1350" y="238" width="62" height="19" fill="#ff0000"/>
<rect x="1351" y="239" width="60" height="17" fill="#ffffff"/>
<text x="1351.6" y="254.3" font-size="16.6" fill="#ff0000" text-anchor="start" font-weight="normal" shape-rendering="auto" textLength="58" lengthAdjust="spacingAndGlyphs">114.365</text>
<rect x="1412" y="247" width="9" height="1" fill="#ff0000"/>
<rect x="1412.5" y="245.5" width="2" height="3" fill="#fff" stroke="#ff0000" stroke-width="1"/>
<rect x="734" y="550" width="62" height="19" fill="#ff0000"/>
<rect x="735" y="551" width="60" height="17" fill="#ffffff"/>
<text x="735.6" y="566.3" font-size="16.6" fill="#ff0000" text-anchor="start" font-weight="normal" shape-rendering="auto" textLength="58" lengthAdjust="spacingAndGlyphs">112.545</text>
<rect x="796" y="559" width="9" height="1" fill="#ff0000"/>
<rect x="1206" y="448" width="62" height="19" fill="#ff0000"/>
<rect x="1207" y="449" width="60" height="17" fill="#ffffff"/>
<text x="1207.6" y="464.3" font-size="16.6" fill="#ff0000" text-anchor="start" font-weight="normal" shape-rendering="auto" textLength="58" lengthAdjust="spacingAndGlyphs">113.140</text>
<rect x="1268" y="457" width="9" height="1" fill="#ff0000"/>
<rect x="1246" y="305" width="10" height="1" fill="#ff0000"/>
<rect x="1256" y="293" width="74" height="25" fill="#ff0000"/>
<rect x="1257" y="294" width="72" height="23" fill="#ffffff"/>
<text x="1258.3" y="314.4" font-size="22.4" fill="#ff0000" text-anchor="start" font-weight="bold" shape-rendering="auto" textLength="70.5" lengthAdjust="spacingAndGlyphs">114.027</text>
</g>
<g shape-rendering="auto">
<line x1="1275.6" y1="454.5" x2="1422.1" y2="264.1" stroke="#ff0000" stroke-width="3.2" stroke-linecap="round"/>
<polygon points="1427.6,257.0 1424.5,268.5 1417.2,262.9" fill="#ff0000" stroke="#ff0000" stroke-width="1" stroke-linejoin="round"/>
</g>
<g shape-rendering="auto">
<line x1="1427.0" y1="259.0" x2="1436.4" y2="299.2" stroke="#ff0000" stroke-width="3.2" stroke-linecap="round"/>
<polygon points="1438.5,308.0 1431.5,298.3 1440.5,296.2" fill="#ff0000" stroke="#ff0000" stroke-width="1" stroke-linejoin="round"/>
</g>
<g shape-rendering="auto">
<line x1="1439.5" y1="309.5" x2="1468.5" y2="294.2" stroke="#ff0000" stroke-width="3.2" stroke-linecap="round"/>
<polygon points="1476.5,290.0 1468.9,299.2 1464.6,291.1" fill="#ff0000" stroke="#ff0000" stroke-width="1" stroke-linejoin="round"/>
</g>
<rect x="1649" y="46" width="2" height="1" fill="#000"/>
<text x="1653.8" y="49.7" font-size="10" fill="#000" text-anchor="start" font-weight="normal" textLength="32.44" lengthAdjust="spacingAndGlyphs">115.540</text>
<rect x="1649" y="79" width="2" height="1" fill="#000"/>
<text x="1653.8" y="82.7" font-size="10" fill="#000" text-anchor="start" font-weight="normal" textLength="32.44" lengthAdjust="spacingAndGlyphs">115.345</text>
<rect x="1649" y="112" width="2" height="1" fill="#000"/>
<text x="1653.8" y="115.7" font-size="10" fill="#000" text-anchor="start" font-weight="normal" textLength="32.44" lengthAdjust="spacingAndGlyphs">115.155</text>
<rect x="1649" y="145" width="2" height="1" fill="#000"/>
<text x="1653.8" y="148.7" font-size="10" fill="#000" text-anchor="start" font-weight="normal" textLength="32.44" lengthAdjust="spacingAndGlyphs">114.960</text>
<rect x="1649" y="178" width="2" height="1" fill="#000"/>
<text x="1653.8" y="181.7" font-size="10" fill="#000" text-anchor="start" font-weight="normal" textLength="32.44" lengthAdjust="spacingAndGlyphs">114.770</text>
<rect x="1649" y="211" width="2" height="1" fill="#000"/>
<text x="1653.8" y="214.7" font-size="10" fill="#000" text-anchor="start" font-weight="normal" textLength="32.44" lengthAdjust="spacingAndGlyphs">114.575</text>
<rect x="1649" y="244" width="2" height="1" fill="#000"/>
<rect x="1649" y="277" width="2" height="1" fill="#000"/>
<text x="1653.8" y="280.7" font-size="10" fill="#000" text-anchor="start" font-weight="normal" textLength="32.44" lengthAdjust="spacingAndGlyphs">114.190</text>
<rect x="1649" y="310" width="2" height="1" fill="#000"/>
<text x="1653.8" y="313.7" font-size="10" fill="#000" text-anchor="start" font-weight="normal" textLength="32.44" lengthAdjust="spacingAndGlyphs">113.995</text>
<rect x="1649" y="343" width="2" height="1" fill="#000"/>
<text x="1653.8" y="346.7" font-size="10" fill="#000" text-anchor="start" font-weight="normal" textLength="32.44" lengthAdjust="spacingAndGlyphs">113.805</text>
<rect x="1649" y="376" width="2" height="1" fill="#000"/>
<text x="1653.8" y="379.7" font-size="10" fill="#000" text-anchor="start" font-weight="normal" textLength="32.44" lengthAdjust="spacingAndGlyphs">113.610</text>
<rect x="1649" y="409" width="2" height="1" fill="#000"/>
<text x="1653.8" y="412.7" font-size="10" fill="#000" text-anchor="start" font-weight="normal" textLength="32.44" lengthAdjust="spacingAndGlyphs">113.420</text>
<rect x="1649" y="442" width="2" height="1" fill="#000"/>
<text x="1653.8" y="445.7" font-size="10" fill="#000" text-anchor="start" font-weight="normal" textLength="32.44" lengthAdjust="spacingAndGlyphs">113.225</text>
<rect x="1649" y="475" width="2" height="1" fill="#000"/>
<text x="1653.8" y="478.7" font-size="10" fill="#000" text-anchor="start" font-weight="normal" textLength="32.44" lengthAdjust="spacingAndGlyphs">113.035</text>
<rect x="1649" y="508" width="2" height="1" fill="#000"/>
<text x="1653.8" y="511.7" font-size="10" fill="#000" text-anchor="start" font-weight="normal" textLength="32.44" lengthAdjust="spacingAndGlyphs">112.840</text>
<rect x="1649" y="541" width="2" height="1" fill="#000"/>
<text x="1653.8" y="544.7" font-size="10" fill="#000" text-anchor="start" font-weight="normal" textLength="32.44" lengthAdjust="spacingAndGlyphs">112.645</text>
<rect x="1649" y="574" width="2" height="1" fill="#000"/>
<text x="1653.8" y="577.7" font-size="10" fill="#000" text-anchor="start" font-weight="normal" textLength="32.44" lengthAdjust="spacingAndGlyphs">112.455</text>
<rect x="1650" y="237" width="41" height="11" fill="#ff0000"/>
<text x="1654" y="245.6" font-size="9.6" fill="#fff" text-anchor="start" font-weight="normal" textLength="32.44" lengthAdjust="spacingAndGlyphs">114.388</text>
<rect x="1650" y="260" width="41" height="11" fill="#ff0000"/>
<text x="1654" y="268.6" font-size="9.6" fill="#fff" text-anchor="start" font-weight="normal" textLength="32.44" lengthAdjust="spacingAndGlyphs">114.254</text>
<rect x="1650" y="285" width="41" height="11" fill="#000000"/>
<text x="1654" y="293.6" font-size="9.6" fill="#fff" text-anchor="start" font-weight="normal" textLength="32.44" lengthAdjust="spacingAndGlyphs">114.113</text>
<rect x="1650" y="299" width="41" height="11" fill="#32cd32"/>
<text x="1654" y="307.6" font-size="9.6" fill="#fff" text-anchor="start" font-weight="normal" textLength="32.44" lengthAdjust="spacingAndGlyphs">114.027</text>
<rect x="1650" y="324" width="41" height="11" fill="#0000ff"/>
<text x="1654" y="332.6" font-size="9.6" fill="#fff" text-anchor="start" font-weight="normal" textLength="32.44" lengthAdjust="spacingAndGlyphs">113.881</text>
<rect x="1650" y="347" width="41" height="11" fill="#0000ff"/>
<text x="1654" y="355.6" font-size="9.6" fill="#fff" text-anchor="start" font-weight="normal" textLength="32.44" lengthAdjust="spacingAndGlyphs">113.747</text>
<polygon points="1443,25 1452,25 1447.5,30" fill="#c0c0c0" shape-rendering="auto"/>
<text x="4" y="36.6" font-size="10" fill="#000" text-anchor="start" font-weight="normal" textLength="201.5" lengthAdjust="spacingAndGlyphs">USDJPY-,H4&#160;&#160;114.166 114.166 114.067 114.113</text>
<g clip-path="url(#cd)">
<rect x="5" y="643" width="1" height="11" fill="#c0c0c0"/>
<rect x="13" y="634" width="1" height="20" fill="#c0c0c0"/>
<rect x="21" y="629" width="1" height="25" fill="#c0c0c0"/>
<rect x="29" y="625" width="1" height="29" fill="#c0c0c0"/>
<rect x="37" y="620" width="1" height="34" fill="#c0c0c0"/>
<rect x="45" y="618" width="1" height="36" fill="#c0c0c0"/>
<rect x="53" y="612" width="1" height="42" fill="#c0c0c0"/>
<rect x="61" y="612" width="1" height="42" fill="#c0c0c0"/>
<rect x="69" y="613" width="1" height="41" fill="#c0c0c0"/>
<rect x="77" y="616" width="1" height="38" fill="#c0c0c0"/>
<rect x="85" y="618" width="1" height="36" fill="#c0c0c0"/>
<rect x="93" y="620" width="1" height="34" fill="#c0c0c0"/>
<rect x="101" y="624" width="1" height="30" fill="#c0c0c0"/>
<rect x="109" y="626" width="1" height="28" fill="#c0c0c0"/>
<rect x="117" y="630" width="1" height="24" fill="#c0c0c0"/>
<rect x="125" y="630" width="1" height="24" fill="#c0c0c0"/>
<rect x="133" y="629" width="1" height="25" fill="#c0c0c0"/>
<rect x="141" y="628" width="1" height="26" fill="#c0c0c0"/>
<rect x="149" y="626" width="1" height="28" fill="#c0c0c0"/>
<rect x="157" y="623" width="1" height="31" fill="#c0c0c0"/>
<rect x="165" y="622" width="1" height="32" fill="#c0c0c0"/>
<rect x="173" y="615" width="1" height="39" fill="#c0c0c0"/>
<rect x="181" y="608" width="1" height="46" fill="#c0c0c0"/>
<rect x="189" y="599" width="1" height="55" fill="#c0c0c0"/>
<rect x="197" y="593" width="1" height="61" fill="#c0c0c0"/>
<rect x="205" y="588" width="1" height="66" fill="#c0c0c0"/>
<rect x="213" y="589" width="1" height="65" fill="#c0c0c0"/>
<rect x="221" y="594" width="1" height="60" fill="#c0c0c0"/>
<rect x="229" y="606" width="1" height="48" fill="#c0c0c0"/>
<rect x="237" y="614" width="1" height="40" fill="#c0c0c0"/>
<rect x="245" y="623" width="1" height="31" fill="#c0c0c0"/>
<rect x="253" y="632" width="1" height="22" fill="#c0c0c0"/>
<rect x="261" y="636" width="1" height="18" fill="#c0c0c0"/>
<rect x="269" y="638" width="1" height="16" fill="#c0c0c0"/>
<rect x="277" y="639" width="1" height="15" fill="#c0c0c0"/>
<rect x="285" y="640" width="1" height="14" fill="#c0c0c0"/>
<rect x="293" y="640" width="1" height="14" fill="#c0c0c0"/>
<rect x="301" y="640" width="1" height="14" fill="#c0c0c0"/>
<rect x="309" y="649" width="1" height="5" fill="#c0c0c0"/>
<rect x="317" y="653" width="1" height="5" fill="#c0c0c0"/>
<rect x="325" y="653" width="1" height="9" fill="#c0c0c0"/>
<rect x="333" y="653" width="1" height="8" fill="#c0c0c0"/>
<rect x="341" y="653" width="1" height="8" fill="#c0c0c0"/>
<rect x="349" y="653" width="1" height="6" fill="#c0c0c0"/>
<rect x="357" y="653" width="1" height="6" fill="#c0c0c0"/>
<rect x="365" y="647" width="1" height="7" fill="#c0c0c0"/>
<rect x="373" y="635" width="1" height="19" fill="#c0c0c0"/>
<rect x="381" y="628" width="1" height="26" fill="#c0c0c0"/>
<rect x="389" y="617" width="1" height="37" fill="#c0c0c0"/>
<rect x="397" y="617" width="1" height="37" fill="#c0c0c0"/>
<rect x="405" y="612" width="1" height="42" fill="#c0c0c0"/>
<rect x="413" y="608" width="1" height="46" fill="#c0c0c0"/>
<rect x="421" y="604" width="1" height="50" fill="#c0c0c0"/>
<rect x="429" y="600" width="1" height="54" fill="#c0c0c0"/>
<rect x="437" y="599" width="1" height="55" fill="#c0c0c0"/>
<rect x="445" y="602" width="1" height="52" fill="#c0c0c0"/>
<rect x="453" y="603" width="1" height="51" fill="#c0c0c0"/>
<rect x="461" y="596" width="1" height="58" fill="#c0c0c0"/>
<rect x="469" y="591" width="1" height="63" fill="#c0c0c0"/>
<rect x="477" y="588" width="1" height="66" fill="#c0c0c0"/>
<rect x="485" y="588" width="1" height="66" fill="#c0c0c0"/>
<rect x="493" y="589" width="1" height="65" fill="#c0c0c0"/>
<rect x="501" y="590" width="1" height="64" fill="#c0c0c0"/>
<rect x="509" y="592" width="1" height="62" fill="#c0c0c0"/>
<rect x="517" y="594" width="1" height="60" fill="#c0c0c0"/>
<rect x="525" y="601" width="1" height="53" fill="#c0c0c0"/>
<rect x="533" y="615" width="1" height="39" fill="#c0c0c0"/>
<rect x="541" y="635" width="1" height="19" fill="#c0c0c0"/>
<rect x="549" y="653" width="1" height="4" fill="#c0c0c0"/>
<rect x="557" y="653" width="1" height="34" fill="#c0c0c0"/>
<rect x="565" y="653" width="1" height="58" fill="#c0c0c0"/>
<rect x="573" y="653" width="1" height="65" fill="#c0c0c0"/>
<rect x="581" y="653" width="1" height="71" fill="#c0c0c0"/>
<rect x="589" y="653" width="1" height="77" fill="#c0c0c0"/>
<rect x="597" y="653" width="1" height="83" fill="#c0c0c0"/>
<rect x="605" y="653" width="1" height="83" fill="#c0c0c0"/>
<rect x="613" y="653" width="1" height="81" fill="#c0c0c0"/>
<rect x="621" y="653" width="1" height="77" fill="#c0c0c0"/>
<rect x="629" y="653" width="1" height="75" fill="#c0c0c0"/>
<rect x="637" y="653" width="1" height="82" fill="#c0c0c0"/>
<rect x="645" y="653" width="1" height="88" fill="#c0c0c0"/>
<rect x="653" y="653" width="1" height="84" fill="#c0c0c0"/>
<rect x="661" y="653" width="1" height="87" fill="#c0c0c0"/>
<rect x="669" y="653" width="1" height="85" fill="#c0c0c0"/>
<rect x="677" y="653" width="1" height="80" fill="#c0c0c0"/>
<rect x="685" y="653" width="1" height="75" fill="#c0c0c0"/>
<rect x="693" y="653" width="1" height="72" fill="#c0c0c0"/>
<rect x="701" y="653" width="1" height="76" fill="#c0c0c0"/>
<rect x="709" y="653" width="1" height="81" fill="#c0c0c0"/>
<rect x="717" y="653" width="1" height="83" fill="#c0c0c0"/>
<rect x="725" y="653" width="1" height="80" fill="#c0c0c0"/>
<rect x="733" y="653" width="1" height="73" fill="#c0c0c0"/>
<rect x="741" y="653" width="1" height="73" fill="#c0c0c0"/>
<rect x="749" y="653" width="1" height="71" fill="#c0c0c0"/>
<rect x="757" y="653" width="1" height="66" fill="#c0c0c0"/>
<rect x="765" y="653" width="1" height="63" fill="#c0c0c0"/>
<rect x="773" y="653" width="1" height="57" fill="#c0c0c0"/>
<rect x="781" y="653" width="1" height="49" fill="#c0c0c0"/>
<rect x="789" y="653" width="1" height="42" fill="#c0c0c0"/>
<rect x="797" y="653" width="1" height="39" fill="#c0c0c0"/>
<rect x="805" y="653" width="1" height="47" fill="#c0c0c0"/>
<rect x="813" y="653" width="1" height="45" fill="#c0c0c0"/>
<rect x="821" y="653" width="1" height="43" fill="#c0c0c0"/>
<rect x="829" y="653" width="1" height="39" fill="#c0c0c0"/>
<rect x="837" y="653" width="1" height="34" fill="#c0c0c0"/>
<rect x="845" y="653" width="1" height="26" fill="#c0c0c0"/>
<rect x="853" y="653" width="1" height="18" fill="#c0c0c0"/>
<rect x="861" y="653" width="1" height="12" fill="#c0c0c0"/>
<rect x="869" y="653" width="1" height="5" fill="#c0c0c0"/>
<rect x="877" y="651" width="1" height="3" fill="#c0c0c0"/>
<rect x="885" y="647" width="1" height="7" fill="#c0c0c0"/>
<rect x="893" y="642" width="1" height="12" fill="#c0c0c0"/>
<rect x="901" y="639" width="1" height="15" fill="#c0c0c0"/>
<rect x="909" y="639" width="1" height="15" fill="#c0c0c0"/>
<rect x="917" y="640" width="1" height="14" fill="#c0c0c0"/>
<rect x="925" y="642" width="1" height="12" fill="#c0c0c0"/>
<rect x="933" y="639" width="1" height="15" fill="#c0c0c0"/>
<rect x="941" y="633" width="1" height="21" fill="#c0c0c0"/>
<rect x="949" y="632" width="1" height="22" fill="#c0c0c0"/>
<rect x="957" y="632" width="1" height="22" fill="#c0c0c0"/>
<rect x="965" y="632" width="1" height="22" fill="#c0c0c0"/>
<rect x="973" y="636" width="1" height="18" fill="#c0c0c0"/>
<rect x="981" y="639" width="1" height="15" fill="#c0c0c0"/>
<rect x="989" y="642" width="1" height="12" fill="#c0c0c0"/>
<rect x="997" y="644" width="1" height="10" fill="#c0c0c0"/>
<rect x="1005" y="647" width="1" height="7" fill="#c0c0c0"/>
<rect x="1013" y="647" width="1" height="7" fill="#c0c0c0"/>
<rect x="1021" y="646" width="1" height="8" fill="#c0c0c0"/>
<rect x="1029" y="643" width="1" height="11" fill="#c0c0c0"/>
<rect x="1037" y="646" width="1" height="8" fill="#c0c0c0"/>
<rect x="1045" y="649" width="1" height="5" fill="#c0c0c0"/>
<rect x="1053" y="649" width="1" height="5" fill="#c0c0c0"/>
<rect x="1061" y="649" width="1" height="5" fill="#c0c0c0"/>
<rect x="1069" y="649" width="1" height="5" fill="#c0c0c0"/>
<rect x="1077" y="647" width="1" height="7" fill="#c0c0c0"/>
<rect x="1085" y="647" width="1" height="7" fill="#c0c0c0"/>
<rect x="1093" y="648" width="1" height="6" fill="#c0c0c0"/>
<rect x="1101" y="648" width="1" height="6" fill="#c0c0c0"/>
<rect x="1109" y="647" width="1" height="7" fill="#c0c0c0"/>
<rect x="1117" y="645" width="1" height="9" fill="#c0c0c0"/>
<rect x="1125" y="647" width="1" height="7" fill="#c0c0c0"/>
<rect x="1133" y="644" width="1" height="10" fill="#c0c0c0"/>
<rect x="1141" y="642" width="1" height="12" fill="#c0c0c0"/>
<rect x="1149" y="641" width="1" height="13" fill="#c0c0c0"/>
<rect x="1157" y="639" width="1" height="15" fill="#c0c0c0"/>
<rect x="1165" y="639" width="1" height="15" fill="#c0c0c0"/>
<rect x="1173" y="638" width="1" height="16" fill="#c0c0c0"/>
<rect x="1181" y="636" width="1" height="18" fill="#c0c0c0"/>
<rect x="1189" y="632" width="1" height="22" fill="#c0c0c0"/>
<rect x="1197" y="626" width="1" height="28" fill="#c0c0c0"/>
<rect x="1205" y="622" width="1" height="32" fill="#c0c0c0"/>
<rect x="1213" y="620" width="1" height="34" fill="#c0c0c0"/>
<rect x="1221" y="618" width="1" height="36" fill="#c0c0c0"/>
<rect x="1229" y="624" width="1" height="30" fill="#c0c0c0"/>
<rect x="1237" y="632" width="1" height="22" fill="#c0c0c0"/>
<rect x="1245" y="637" width="1" height="17" fill="#c0c0c0"/>
<rect x="1253" y="644" width="1" height="10" fill="#c0c0c0"/>
<rect x="1261" y="647" width="1" height="7" fill="#c0c0c0"/>
<rect x="1277" y="653" width="1" height="3" fill="#c0c0c0"/>
<rect x="1285" y="653" width="1" height="3" fill="#c0c0c0"/>
<rect x="1293" y="653" width="1" height="6" fill="#c0c0c0"/>
<rect x="1301" y="653" width="1" height="9" fill="#c0c0c0"/>
<rect x="1309" y="653" width="1" height="12" fill="#c0c0c0"/>
<rect x="1317" y="653" width="1" height="10" fill="#c0c0c0"/>
<rect x="1325" y="653" width="1" height="13" fill="#c0c0c0"/>
<rect x="1333" y="653" width="1" height="10" fill="#c0c0c0"/>
<rect x="1341" y="653" width="1" height="8" fill="#c0c0c0"/>
<rect x="1349" y="653" width="1" height="7" fill="#c0c0c0"/>
<rect x="1357" y="653" width="1" height="6" fill="#c0c0c0"/>
<rect x="1365" y="653" width="1" height="4" fill="#c0c0c0"/>
<rect x="1373" y="648" width="1" height="6" fill="#c0c0c0"/>
<rect x="1381" y="641" width="1" height="13" fill="#c0c0c0"/>
<rect x="1389" y="638" width="1" height="16" fill="#c0c0c0"/>
<rect x="1397" y="634" width="1" height="20" fill="#c0c0c0"/>
<rect x="1405" y="629" width="1" height="25" fill="#c0c0c0"/>
<rect x="1413" y="625" width="1" height="29" fill="#c0c0c0"/>
<rect x="1421" y="621" width="1" height="33" fill="#c0c0c0"/>
<rect x="1429" y="620" width="1" height="34" fill="#c0c0c0"/>
<rect x="1437" y="621" width="1" height="33" fill="#c0c0c0"/>
<polyline points="-2.5,696.5 5.5,688.5 13.5,680.5 21.5,672.5 29.5,662.5 37.5,652.5 45.5,643.5 53.5,635.5 61.5,628.5 69.5,623.5 77.5,620.5 85.5,618.5 93.5,617.5 101.5,617.5 109.5,618.5 117.5,619.5 125.5,621.5 133.5,623.5 141.5,624.5 149.5,625.5 157.5,626.5 165.5,626.5 173.5,625.5 181.5,623.5 189.5,620.5 197.5,616.5 205.5,611.5 213.5,607.5 221.5,603.5 229.5,601.5 237.5,601.5 245.5,601.5 253.5,604.5 261.5,608.5 269.5,613.5 277.5,619.5 285.5,625.5 293.5,630.5 301.5,634.5 309.5,637.5 317.5,641.5 325.5,644.5 333.5,647.5 341.5,650.5 349.5,652.5 357.5,654.5 365.5,655.5 373.5,654.5 381.5,652.5 389.5,647.5 397.5,642.5 405.5,637.5 413.5,631.5 421.5,625.5 429.5,619.5 437.5,613.5 445.5,609.5 453.5,607.5 461.5,604.5 469.5,601.5 477.5,599.5 485.5,597.5 493.5,595.5 501.5,594.5 509.5,593.5 517.5,592.5 525.5,592.5 533.5,594.5 541.5,599.5 549.5,607.5 557.5,618.5 565.5,631.5 573.5,645.5 581.5,660.5 589.5,675.5 597.5,690.5 605.5,703.5 613.5,714.5 621.5,722.5 629.5,726.5 637.5,729.5 645.5,732.5 653.5,733.5 661.5,734.5 669.5,734.5 677.5,734.5 685.5,733.5 693.5,733.5 701.5,733.5 709.5,733.5 717.5,732.5 725.5,732.5 733.5,730.5 741.5,729.5 749.5,728.5 757.5,727.5 765.5,726.5 773.5,724.5 781.5,720.5 789.5,716.5 797.5,711.5 805.5,708.5 813.5,705.5 821.5,702.5 829.5,699.5 837.5,696.5 845.5,692.5 853.5,689.5 861.5,686.5 869.5,682.5 877.5,677.5 885.5,671.5 893.5,665.5 901.5,659.5 909.5,654.5 917.5,650.5 925.5,647.5 933.5,644.5 941.5,641.5 949.5,639.5 957.5,638.5 965.5,636.5 973.5,636.5 981.5,636.5 989.5,636.5 997.5,636.5 1005.5,637.5 1013.5,639.5 1021.5,640.5 1029.5,642.5 1037.5,643.5 1045.5,645.5 1053.5,646.5 1061.5,647.5 1069.5,647.5 1077.5,647.5 1085.5,647.5 1093.5,648.5 1101.5,648.5 1109.5,648.5 1117.5,648.5 1125.5,648.5 1133.5,647.5 1141.5,646.5 1149.5,646.5 1157.5,645.5 1165.5,644.5 1173.5,643.5 1181.5,641.5 1189.5,640.5 1197.5,638.5 1205.5,635.5 1213.5,633.5 1221.5,630.5 1229.5,628.5 1237.5,627.5 1245.5,627.5 1253.5,628.5 1261.5,630.5 1269.5,633.5 1277.5,637.5 1285.5,640.5 1293.5,645.5 1301.5,649.5 1309.5,653.5 1317.5,655.5 1325.5,658.5 1333.5,659.5 1341.5,660.5 1349.5,661.5 1357.5,661.5 1365.5,661.5 1373.5,659.5 1381.5,657.5 1389.5,654.5 1397.5,651.5 1405.5,647.5 1413.5,643.5 1421.5,639.5 1429.5,635.5 1437.5,631.5" fill="none" stroke="#ff0000" stroke-width="1" stroke-dasharray="3,3"/>
</g>
<g shape-rendering="auto">
<line x1="1328.0" y1="661.8" x2="1432.9" y2="628.2" stroke="#ff0000" stroke-width="3.2" stroke-linecap="round"/>
<polygon points="1441.5,625.5 1432.4,633.2 1429.6,624.5" fill="#ff0000" stroke="#ff0000" stroke-width="1" stroke-linejoin="round"/>
</g>
<text x="-6.5" y="592.6" font-size="10" fill="#000" text-anchor="start" font-weight="normal" textLength="128" lengthAdjust="spacingAndGlyphs">MACD(12,26,9) 0.1392 0.0956</text>
<rect x="1649" y="581" width="2" height="1" fill="#000"/>
<text x="1652" y="590" font-size="9.6" fill="#000" text-anchor="start" font-weight="normal" textLength="27.45" lengthAdjust="spacingAndGlyphs">0.3161</text>
<rect x="1649" y="653" width="2" height="1" fill="#000"/>
<text x="1652" y="656.6" font-size="9.6" fill="#000" text-anchor="start" font-weight="normal" textLength="17.47" lengthAdjust="spacingAndGlyphs">0.00</text>
<rect x="1649" y="748" width="2" height="1" fill="#000"/>
<text x="1652" y="746" font-size="9.6" fill="#000" text-anchor="start" font-weight="normal" textLength="30.44" lengthAdjust="spacingAndGlyphs">-0.4115</text>
<g clip-path="url(#cr)">
<line x1="0" y1="787.5" x2="1648" y2="787.5" stroke="#c0c0c0" stroke-width="1" stroke-dasharray="3,3"/>
<line x1="0" y1="838.5" x2="1648" y2="838.5" stroke="#c0c0c0" stroke-width="1" stroke-dasharray="3,3"/>
<line x1="0" y1="899.5" x2="1648" y2="899.5" stroke="#c0c0c0" stroke-width="1" stroke-dasharray="3,3"/>
<polyline points="-2.5,818.5 5.5,815.5 13.5,812.5 21.5,820.5 29.5,819.5 37.5,814.5 45.5,818.5 53.5,810.5 61.5,823.5 69.5,823.5 77.5,830.5 85.5,829.5 93.5,828.5 101.5,836.5 109.5,831.5 117.5,838.5 125.5,831.5 133.5,824.5 141.5,823.5 149.5,820.5 157.5,816.5 165.5,819.5 173.5,804.5 181.5,800.5 189.5,795.5 197.5,796.5 205.5,796.5 213.5,809.5 221.5,824.5 229.5,845.5 237.5,842.5 245.5,846.5 253.5,850.5 261.5,841.5 269.5,836.5 277.5,837.5 285.5,836.5 293.5,831.5 301.5,832.5 309.5,858.5 317.5,856.5 325.5,852.5 333.5,840.5 341.5,842.5 349.5,836.5 357.5,842.5 365.5,816.5 373.5,810.5 381.5,819.5 389.5,810.5 397.5,827.5 405.5,820.5 413.5,820.5 421.5,817.5 429.5,815.5 437.5,819.5 445.5,827.5 453.5,823.5 461.5,811.5 469.5,810.5 477.5,813.5 485.5,815.5 493.5,815.5 501.5,817.5 509.5,816.5 517.5,816.5 525.5,834.5 533.5,851.5 541.5,867.5 549.5,873.5 557.5,886.5 565.5,886.5 573.5,863.5 581.5,864.5 589.5,866.5 597.5,868.5 605.5,861.5 613.5,857.5 621.5,854.5 629.5,858.5 637.5,869.5 645.5,871.5 653.5,853.5 661.5,863.5 669.5,856.5 677.5,852.5 685.5,852.5 693.5,853.5 701.5,863.5 709.5,867.5 717.5,863.5 725.5,856.5 733.5,848.5 741.5,857.5 749.5,856.5 757.5,848.5 765.5,852.5 773.5,846.5 781.5,839.5 789.5,841.5 797.5,845.5 805.5,862.5 813.5,847.5 821.5,848.5 829.5,843.5 837.5,841.5 845.5,833.5 853.5,832.5 861.5,833.5 869.5,830.5 877.5,827.5 885.5,831.5 893.5,827.5 901.5,829.5 909.5,834.5 917.5,836.5 925.5,839.5 933.5,827.5 941.5,820.5 949.5,831.5 957.5,830.5 965.5,831.5 973.5,840.5 981.5,840.5 989.5,842.5 997.5,840.5 1005.5,842.5 1013.5,837.5 1021.5,834.5 1029.5,824.5 1037.5,844.5 1045.5,844.5 1053.5,839.5 1061.5,837.5 1069.5,837.5 1077.5,831.5 1085.5,836.5 1093.5,839.5 1101.5,835.5 1109.5,834.5 1117.5,827.5 1125.5,840.5 1133.5,828.5 1141.5,827.5 1149.5,827.5 1157.5,825.5 1165.5,829.5 1173.5,824.5 1181.5,821.5 1189.5,812.5 1197.5,806.5 1205.5,807.5 1213.5,808.5 1221.5,805.5 1229.5,841.5 1237.5,850.5 1245.5,845.5 1253.5,853.5 1261.5,843.5 1269.5,853.5 1277.5,844.5 1285.5,840.5 1293.5,849.5 1301.5,850.5 1309.5,852.5 1317.5,838.5 1325.5,852.5 1333.5,836.5 1341.5,837.5 1349.5,839.5 1357.5,838.5 1365.5,837.5 1373.5,819.5 1381.5,818.5 1389.5,825.5 1397.5,820.5 1405.5,818.5 1413.5,815.5 1421.5,812.5 1429.5,822.5 1437.5,825.5" fill="none" stroke="#1e90ff" stroke-width="1"/>
</g>
<g shape-rendering="auto">
<line x1="1341.5" y1="833.5" x2="1435.1" y2="817.1" stroke="#ff0000" stroke-width="3.2" stroke-linecap="round"/>
<polygon points="1444.0,815.5 1434.0,821.9 1432.4,812.9" fill="#ff0000" stroke="#ff0000" stroke-width="1" stroke-linejoin="round"/>
</g>
<text x="-7" y="764.6" font-size="10" fill="#000" text-anchor="start" font-weight="normal" textLength="68.5" lengthAdjust="spacingAndGlyphs">RSI(14) 57.9363</text>
<rect x="1649" y="753" width="2" height="1" fill="#000"/>
<text x="1652" y="762.3" font-size="9.6" fill="#000" text-anchor="start" font-weight="normal" textLength="14.97" lengthAdjust="spacingAndGlyphs">100</text>
<text x="1651" y="790.8" font-size="9.6" fill="#000" text-anchor="start" font-weight="normal" textLength="9.98" lengthAdjust="spacingAndGlyphs">80</text>
<text x="1651" y="841.8" font-size="9.6" fill="#000" text-anchor="start" font-weight="normal" textLength="9.98" lengthAdjust="spacingAndGlyphs">50</text>
<text x="1651" y="902.8" font-size="9.6" fill="#000" text-anchor="start" font-weight="normal" textLength="9.98" lengthAdjust="spacingAndGlyphs">15</text>
<rect x="1649" y="924" width="2" height="1" fill="#000"/>
<text x="1651.5" y="921.7" font-size="9.6" fill="#000" text-anchor="start" font-weight="normal" textLength="4.99" lengthAdjust="spacingAndGlyphs">0</text>
<rect x="53" y="926" width="1" height="3" fill="#000"/>
<text x="53" y="938" font-size="10.4" fill="#000" text-anchor="start" font-weight="normal" textLength="57.42" lengthAdjust="spacingAndGlyphs">12 Nov 00:00</text>
<rect x="117" y="926" width="1" height="3" fill="#000"/>
<text x="117" y="938" font-size="10.4" fill="#000" text-anchor="start" font-weight="normal" textLength="57.42" lengthAdjust="spacingAndGlyphs">15 Nov 08:00</text>
<rect x="181" y="926" width="1" height="3" fill="#000"/>
<text x="181" y="938" font-size="10.4" fill="#000" text-anchor="start" font-weight="normal" textLength="57.42" lengthAdjust="spacingAndGlyphs">16 Nov 16:00</text>
<rect x="245" y="926" width="1" height="3" fill="#000"/>
<text x="245" y="938" font-size="10.4" fill="#000" text-anchor="start" font-weight="normal" textLength="57.42" lengthAdjust="spacingAndGlyphs">18 Nov 00:00</text>
<rect x="309" y="926" width="1" height="3" fill="#000"/>
<text x="309" y="938" font-size="10.4" fill="#000" text-anchor="start" font-weight="normal" textLength="57.42" lengthAdjust="spacingAndGlyphs">19 Nov 08:00</text>
<rect x="373" y="926" width="1" height="3" fill="#000"/>
<text x="373" y="938" font-size="10.4" fill="#000" text-anchor="start" font-weight="normal" textLength="57.42" lengthAdjust="spacingAndGlyphs">22 Nov 16:00</text>
<rect x="437" y="926" width="1" height="3" fill="#000"/>
<text x="437" y="938" font-size="10.4" fill="#000" text-anchor="start" font-weight="normal" textLength="57.42" lengthAdjust="spacingAndGlyphs">24 Nov 00:00</text>
<rect x="501" y="926" width="1" height="3" fill="#000"/>
<text x="501" y="938" font-size="10.4" fill="#000" text-anchor="start" font-weight="normal" textLength="57.42" lengthAdjust="spacingAndGlyphs">25 Nov 08:00</text>
<rect x="565" y="926" width="1" height="3" fill="#000"/>
<text x="565" y="938" font-size="10.4" fill="#000" text-anchor="start" font-weight="normal" textLength="57.42" lengthAdjust="spacingAndGlyphs">26 Nov 16:00</text>
<rect x="629" y="926" width="1" height="3" fill="#000"/>
<text x="629" y="938" font-size="10.4" fill="#000" text-anchor="start" font-weight="normal" textLength="57.42" lengthAdjust="spacingAndGlyphs">30 Nov 00:00</text>
<rect x="693" y="926" width="1" height="3" fill="#000"/>
<text x="693" y="938" font-size="10.4" fill="#000" text-anchor="start" font-weight="normal" textLength="50.57" lengthAdjust="spacingAndGlyphs">1 Dec 08:00</text>
<rect x="757" y="926" width="1" height="3" fill="#000"/>
<text x="757" y="938" font-size="10.4" fill="#000" text-anchor="start" font-weight="normal" textLength="50.57" lengthAdjust="spacingAndGlyphs">2 Dec 16:00</text>
<rect x="821" y="926" width="1" height="3" fill="#000"/>
<text x="821" y="938" font-size="10.4" fill="#000" text-anchor="start" font-weight="normal" textLength="50.57" lengthAdjust="spacingAndGlyphs">6 Dec 00:00</text>
<rect x="885" y="926" width="1" height="3" fill="#000"/>
<text x="885" y="938" font-size="10.4" fill="#000" text-anchor="start" font-weight="normal" textLength="50.57" lengthAdjust="spacingAndGlyphs">7 Dec 08:00</text>
<rect x="949" y="926" width="1" height="3" fill="#000"/>
<text x="949" y="938" font-size="10.4" fill="#000" text-anchor="start" font-weight="normal" textLength="50.57" lengthAdjust="spacingAndGlyphs">8 Dec 16:00</text>
<rect x="1013" y="926" width="1" height="3" fill="#000"/>
<text x="1013" y="938" font-size="10.4" fill="#000" text-anchor="start" font-weight="normal" textLength="55.78" lengthAdjust="spacingAndGlyphs">10 Dec 00:00</text>
<rect x="1077" y="926" width="1" height="3" fill="#000"/>
<text x="1077" y="938" font-size="10.4" fill="#000" text-anchor="start" font-weight="normal" textLength="55.78" lengthAdjust="spacingAndGlyphs">13 Dec 08:00</text>
<rect x="1141" y="926" width="1" height="3" fill="#000"/>
<text x="1141" y="938" font-size="10.4" fill="#000" text-anchor="start" font-weight="normal" textLength="55.78" lengthAdjust="spacingAndGlyphs">14 Dec 16:00</text>
<rect x="1205" y="926" width="1" height="3" fill="#000"/>
<text x="1205" y="938" font-size="10.4" fill="#000" text-anchor="start" font-weight="normal" textLength="55.78" lengthAdjust="spacingAndGlyphs">16 Dec 00:00</text>
<rect x="1269" y="926" width="1" height="3" fill="#000"/>
<text x="1269" y="938" font-size="10.4" fill="#000" text-anchor="start" font-weight="normal" textLength="55.78" lengthAdjust="spacingAndGlyphs">17 Dec 08:00</text>
<rect x="1333" y="926" width="1" height="3" fill="#000"/>
<text x="1333" y="938" font-size="10.4" fill="#000" text-anchor="start" font-weight="normal" textLength="55.78" lengthAdjust="spacingAndGlyphs">20 Dec 16:00</text>
<rect x="1397" y="926" width="1" height="3" fill="#000"/>
<text x="1397" y="938" font-size="10.4" fill="#000" text-anchor="start" font-weight="normal" textLength="55.78" lengthAdjust="spacingAndGlyphs">22 Dec 00:00</text>
<text x="1.5" y="938" font-size="10.4" fill="#000" text-anchor="start" font-weight="normal" textLength="40.48" lengthAdjust="spacingAndGlyphs">Nov 2021</text>
<rect x="0" y="68" width="102" height="33" fill="#00006e"/>
<rect x="0" y="69" width="101" height="31" fill="url(#gPrice)"/>
<rect x="0" y="44" width="44" height="25" fill="#00006e"/>
<rect x="0" y="45" width="43" height="23" fill="url(#gSell)"/>
<rect x="0" y="68" width="40" height="1" fill="#7a7aff"/>
<rect x="0" y="68" width="40" height="1" fill="#7a7aff"/>
<rect x="103" y="68" width="108" height="33" fill="#00006e"/>
<rect x="104" y="69" width="106" height="31" fill="url(#gPrice)"/>
<rect x="159" y="44" width="52" height="25" fill="#00006e"/>
<rect x="160" y="45" width="50" height="23" fill="url(#gSell)"/>
<rect x="163" y="68" width="44" height="1" fill="#7a7aff"/>
<rect x="163" y="68" width="44" height="1" fill="#7a7aff"/>
<rect x="46" y="44" width="111" height="22" fill="#a8a8a8"/>
<rect x="47" y="45" width="109" height="20" fill="#ffffff"/>
<rect x="47" y="45" width="20" height="20" fill="url(#gBtn)"/>
<rect x="67" y="45" width="1" height="20" fill="#b4b4b4"/>
<rect x="136" y="45" width="20" height="20" fill="url(#gBtn)"/>
<rect x="135" y="45" width="1" height="20" fill="#b4b4b4"/>
<polygon points="53.5,52.5 59.5,52.5 56.5,56" fill="#4a64c8" shape-rendering="auto"/>
<polygon points="142.5,56 148.5,56 145.5,52.5" fill="#4a64c8" shape-rendering="auto"/>
<text x="131" y="59" font-size="12" fill="#000" text-anchor="end" font-weight="normal">1.00</text>
<text x="4.5" y="60" font-size="12" fill="#ffffff" text-anchor="start" font-weight="normal" textLength="26" lengthAdjust="spacingAndGlyphs">SELL</text>
<text x="172.5" y="60" font-size="12" fill="#ffffff" text-anchor="start" font-weight="normal" textLength="24" lengthAdjust="spacingAndGlyphs">BUY</text>
<text x="15.5" y="96" font-size="12" fill="#ffffff" text-anchor="start" font-weight="bold" textLength="21" lengthAdjust="spacingAndGlyphs">114</text>
<text x="40" y="96.3" font-size="34" fill="#ffffff" text-anchor="start" font-weight="normal" textLength="35" lengthAdjust="spacingAndGlyphs">11</text>
<text x="79.5" y="80" font-size="12" fill="#ffffff" text-anchor="start" font-weight="bold">3</text>
<text x="125.3" y="96" font-size="12" fill="#ffffff" text-anchor="start" font-weight="bold" textLength="21" lengthAdjust="spacingAndGlyphs">114</text>
<text x="151" y="96.3" font-size="34" fill="#ffffff" text-anchor="start" font-weight="normal" textLength="34.5" lengthAdjust="spacingAndGlyphs">13</text>
<text x="190" y="80" font-size="12" fill="#ffffff" text-anchor="start" font-weight="bold">1</text>
<circle cx="0" cy="15" r="2" fill="#d09020" shape-rendering="auto"/>
<rect x="9" y="1" width="1" height="18" fill="#a0a0a0"/>
<rect x="19" y="1" width="10" height="13" fill="#777"/>
<rect x="20" y="2" width="8" height="11" fill="#fff"/>
<rect x="21" y="4" width="4" height="1" fill="#999"/>
<rect x="21" y="6" width="5" height="1" fill="#999"/>
<rect x="21" y="8" width="4" height="1" fill="#999"/>
<rect x="26" y="7" width="3" height="10" fill="#1fa01f"/>
<rect x="23" y="10" width="9" height="3" fill="#1fa01f"/>
<rect x="27" y="7" width="1" height="10" fill="#5fe35f"/>
<rect x="24" y="11" width="7" height="1" fill="#5fe35f"/>
<path d="M40.5,1v1 M38,3.5h6 M39.5,4v1 M42.5,4v1 M37,5.5h8 M38,7.5h6 M40.5,5v7 M39,9l-2,2 M42,9l1.5,1.5 M39,11.5h-1 M48.5,1l-3,1.5 M45.5,3v9 M45,5.5h5 M48.5,6v6 M52,2l1,1 M52.5,5v5l1.5,-1 M55,2.5h8 M59.5,3v8.5h-2 M65,1l1,1 M70,1l-1,1 M64.5,3.5h8v4h-8z M64.5,5.5h8 M68.5,3v9 M62,9.5h12" stroke="#111" stroke-width="1" fill="none"/>
<polygon points="86,10 93,3 102,8 96,16" fill="#c89b16" shape-rendering="auto"/>
<polygon points="87,9 93,3.5 100.5,8 95,14" fill="#f0c93a" shape-rendering="auto"/>
<rect x="116" y="0" width="11" height="10" fill="#1f7fe6"/>
<rect x="117" y="1" width="3" height="8" fill="#5fb0ff"/>
<rect x="121" y="3" width="5" height="5" fill="#cfe6ff"/>
<rect x="122" y="4" width="3" height="1" fill="#3a8ae8"/>
<path d="M115,15.5 h13.5 a2.6,2.6 0 0 0 -0.5,-5 a3.2,3.2 0 0 0 -5.5,-1.8 a3,3 0 0 0 -5,1.6 a2.7,2.7 0 0 0 -2.5,5.2z" fill="#e8ecf4" stroke="#5a6f9a" stroke-width="1" shape-rendering="auto"/>
<g fill="none" shape-rendering="auto"><circle cx="150" cy="8" r="7.3" stroke="#9db8e0" stroke-width="1"/><circle cx="150" cy="8" r="4.8" stroke="#5b86d6" stroke-width="1"/><path d="M157,10 A7.3,7.3 0 0 1 151,15.2" stroke="#5cb85c" stroke-width="1.3"/><path d="M154.5,9.5 A4.8,4.8 0 0 1 151,12.7" stroke="#4aa84a" stroke-width="1.2"/><circle cx="150" cy="7.5" r="1.6" fill="#2a5fd0"/><path d="M150.5,8v7.5" stroke="#20a020" stroke-width="1.4"/></g>
<g shape-rendering="auto"><ellipse cx="176" cy="4" rx="7" ry="2.5" fill="#62b0e8"/><ellipse cx="176" cy="2.5" rx="3" ry="2.5" fill="#8ccaf2"/><polygon points="170,7 183,7 179,15 175,15" fill="#f2d24a"/><circle cx="181" cy="12" r="4" fill="#d8281c"/><rect x="179.5" y="10.5" width="3" height="3" fill="#fff"/></g>
<path d="M195,1l-1,1 M192.5,2.5h7v9h-7z M193,5.5h6 M193,8.5h6 M203,2.5h5 M202,5.5h7 M205,6l-2,4 M203,10.5l5,-1 M207,8l1,1.5 M210.5,1v5l-2,5 M208,3.5h5.5v7l-1,1 M219.5,0.5v1.5 M214,3.5h12 M217,5l-1.5,1.5 M222,5l1.5,1.5 M217,7.5l7,4.5 M223,7.5l-8,4.5 M228.5,1h7v5h-7z M229,3.5h6 M227,7.5h9.5v4 M229.5,8l-3,3.5 M232.5,8l-3,3.5 M235,8l-3,3.5" stroke="#111" stroke-width="1" fill="none"/>
<rect x="245" y="1" width="1" height="18" fill="#a0a0a0"/>
<rect x="250" y="1" width="3" height="1" fill="#a8a8a8"/>
<rect x="250" y="3" width="3" height="1" fill="#a8a8a8"/>
<rect x="250" y="5" width="3" height="1" fill="#a8a8a8"/>
<rect x="250" y="7" width="3" height="1" fill="#a8a8a8"/>
<rect x="250" y="9" width="3" height="1" fill="#a8a8a8"/>
<rect x="250" y="11" width="3" height="1" fill="#a8a8a8"/>
<rect x="250" y="13" width="3" height="1" fill="#a8a8a8"/>
<rect x="250" y="15" width="3" height="1" fill="#a8a8a8"/>
<rect x="250" y="17" width="3" height="1" fill="#a8a8a8"/>
<rect x="263" y="2" width="1" height="14" fill="#505050"/>
<rect x="261" y="13" width="14" height="1" fill="#505050"/>
<rect x="262" y="3" width="3" height="1" fill="#505050"/>
<rect x="273" y="12" width="1" height="3" fill="#505050"/>
<rect x="269" y="4" width="1" height="7" fill="#1a9a1a"/>
<rect x="270" y="4" width="2" height="1" fill="#1a9a1a"/>
<rect x="267" y="10" width="2" height="1" fill="#1a9a1a"/>
<rect x="283" y="1" width="1" height="18" fill="#a0a0a0"/>
<rect x="284" y="0" width="24" height="19" fill="#f7f7f7"/>
<rect x="291" y="2" width="1" height="14" fill="#505050"/>
<rect x="289" y="13" width="14" height="1" fill="#505050"/>
<rect x="290" y="3" width="3" height="1" fill="#505050"/>
<rect x="301" y="12" width="1" height="3" fill="#505050"/>
<rect x="296" y="0" width="1" height="12" fill="#158015"/>
<rect x="295" y="2" width="4" height="7" fill="#1c9a1c"/>
<rect x="296" y="3" width="2" height="5" fill="#3fe03f"/>
<rect x="319" y="2" width="1" height="14" fill="#505050"/>
<rect x="317" y="13" width="14" height="1" fill="#505050"/>
<rect x="318" y="3" width="3" height="1" fill="#505050"/>
<rect x="329" y="12" width="1" height="3" fill="#505050"/>
<path d="M318,10.5 l3,-3 l3,-2 l2,1 l4,3" stroke="#27a027" stroke-width="1" fill="none" shape-rendering="auto"/>
<rect x="340" y="1" width="1" height="18" fill="#a0a0a0"/>
<g shape-rendering="auto"><line x1="359" y1="10.5" x2="364" y2="15.5" stroke="#c8a028" stroke-width="2.4"/><circle cx="355" cy="6.5" r="4.7" fill="#dff0ff" stroke="#3c7ccc" stroke-width="1.3"/><path d="M352.5,6.5h5 M355,4.0v5" stroke="#3c7ccc" stroke-width="1.4"/></g>
<g shape-rendering="auto"><line x1="387" y1="10.5" x2="392" y2="15.5" stroke="#c8a028" stroke-width="2.4"/><circle cx="383" cy="6.5" r="4.7" fill="#dff0ff" stroke="#3c7ccc" stroke-width="1.3"/><path d="M380.5,6.5h5" stroke="#3c7ccc" stroke-width="1.4"/></g>
<rect x="405" y="0" width="8" height="8" fill="#2e9a2e"/>
<rect x="407" y="3" width="5" height="2" fill="#fff"/>
<rect x="407" y="6" width="1" height="1" fill="#fff"/>
<rect x="411" y="6" width="1" height="1" fill="#fff"/>
<rect x="413" y="0" width="8" height="8" fill="#2a5fd8"/>
<rect x="415" y="3" width="5" height="2" fill="#fff"/>
<rect x="415" y="6" width="1" height="1" fill="#fff"/>
<rect x="419" y="6" width="1" height="1" fill="#fff"/>
<rect x="405" y="8" width="8" height="8" fill="#2a5fd8"/>
<rect x="407" y="11" width="5" height="2" fill="#fff"/>
<rect x="407" y="14" width="1" height="1" fill="#fff"/>
<rect x="411" y="14" width="1" height="1" fill="#fff"/>
<rect x="413" y="8" width="8" height="8" fill="#2e9a2e"/>
<rect x="415" y="11" width="5" height="2" fill="#fff"/>
<rect x="415" y="14" width="1" height="1" fill="#fff"/>
<rect x="419" y="14" width="1" height="1" fill="#fff"/>
<rect x="430" y="1" width="1" height="18" fill="#a0a0a0"/>
<rect x="435" y="0" width="25" height="19" fill="#f7f7f7"/>
<rect x="443" y="2" width="1" height="14" fill="#505050"/>
<rect x="441" y="13" width="14" height="1" fill="#505050"/>
<rect x="442" y="3" width="3" height="1" fill="#505050"/>
<rect x="453" y="12" width="1" height="3" fill="#505050"/>
<polygon points="448,4 448,10 452,7" fill="#1faa1f"/>
<rect x="463" y="1" width="1" height="18" fill="#a0a0a0"/>
<rect x="464" y="0" width="24" height="19" fill="#f7f7f7"/>
<rect x="471" y="2" width="1" height="14" fill="#505050"/>
<rect x="469" y="13" width="14" height="1" fill="#505050"/>
<rect x="470" y="3" width="3" height="1" fill="#505050"/>
<rect x="481" y="12" width="1" height="3" fill="#505050"/>
<rect x="477" y="2" width="1" height="10" fill="#1a6fb0"/>
<polygon points="478,7 481,5 481,9" fill="#e05010"/>
<rect x="480" y="7" width="3" height="1" fill="#e05010"/>
<rect x="492" y="1" width="1" height="18" fill="#a0a0a0"/>
<rect x="503" y="1" width="9" height="12" fill="#777"/>
<rect x="504" y="2" width="7" height="10" fill="#fff"/>
<rect x="509" y="7" width="3" height="10" fill="#1fa01f"/>
<rect x="506" y="10" width="9" height="3" fill="#1fa01f"/>
<rect x="510" y="7" width="1" height="10" fill="#5fe35f"/>
<polygon points="523.5,7 529.5,7 526.5,10" fill="#000"/>
<g shape-rendering="auto"><circle cx="548" cy="7.5" r="7" fill="#2a7ad8"/><circle cx="548" cy="7.5" r="5" fill="#f4f8ff"/><path d="M548,4v4h2.5" stroke="#333" stroke-width="1" fill="none"/></g>
<polygon points="562.5,7 568.5,7 565.5,10" fill="#000"/>
<rect x="579" y="1" width="16" height="14" fill="#4b7fc8"/>
<rect x="580" y="3" width="14" height="11" fill="#fff"/>
<rect x="580" y="2" width="14" height="1" fill="#9cc0f0"/>
<rect x="580" y="8" width="14" height="1" fill="#4b7fc8"/>
<path d="M581,6.5l3,-1l3,1l3,-1l3,0" stroke="#a03020" stroke-width="1" fill="none" shape-rendering="auto"/>
<path d="M581,12l3,-1l3,1l3,-2l3,2" stroke="#20a030" stroke-width="1" fill="none" shape-rendering="auto"/>
<polygon points="601.5,7 607.5,7 604.5,10" fill="#000"/>
<rect x="613" y="0" width="1" height="20" fill="#a0a0a0"/>
<rect x="617" y="1" width="3" height="1" fill="#a8a8a8"/>
<rect x="617" y="3" width="3" height="1" fill="#a8a8a8"/>
<rect x="617" y="5" width="3" height="1" fill="#a8a8a8"/>
<rect x="617" y="7" width="3" height="1" fill="#a8a8a8"/>
<rect x="617" y="9" width="3" height="1" fill="#a8a8a8"/>
<rect x="617" y="11" width="3" height="1" fill="#a8a8a8"/>
<rect x="617" y="13" width="3" height="1" fill="#a8a8a8"/>
<rect x="617" y="15" width="3" height="1" fill="#a8a8a8"/>
<rect x="617" y="17" width="3" height="1" fill="#a8a8a8"/>
<rect x="623" y="1" width="1" height="18" fill="#a0a0a0"/>
<rect x="624" y="0" width="24" height="19" fill="#f7f7f7"/>
<polygon points="631,1 631,12 633.5,9.5 636,15 638,14 635.5,8.5 639,8.5" fill="#505050" shape-rendering="auto"/>
<rect x="656" y="8" width="6" height="1" fill="#404040"/>
<rect x="665" y="8" width="6" height="1" fill="#404040"/>
<rect x="663" y="1" width="1" height="6" fill="#404040"/>
<rect x="663" y="10" width="1" height="6" fill="#404040"/>
<rect x="680" y="1" width="1" height="18" fill="#a0a0a0"/>
<rect x="697" y="2" width="1" height="13" fill="#404040"/>
<rect x="720" y="8" width="12" height="1" fill="#404040"/>
<path d="M748,15 L760,3" stroke="#404040" stroke-width="1.2" fill="none" shape-rendering="auto"/>
<path d="M774,10 L785,1 M776,13 L787,4 M778,15 L788,7 M777,6v6 M780,4v6 M783,2v5" stroke="#404040" stroke-width="1" fill="none" shape-rendering="auto"/>
<text x="785" y="16" font-size="7" fill="#404040" text-anchor="start" font-weight="bold">E</text>
<line x1="803" y1="1.5" x2="816" y2="1.5" stroke="#404040" stroke-width="1" stroke-dasharray="1,1"/>
<line x1="803" y1="4.5" x2="816" y2="4.5" stroke="#404040" stroke-width="1" stroke-dasharray="1,1"/>
<line x1="803" y1="8.5" x2="816" y2="8.5" stroke="#404040" stroke-width="1" stroke-dasharray="1,1"/>
<line x1="803" y1="12.5" x2="816" y2="12.5" stroke="#404040" stroke-width="1" stroke-dasharray="1,1"/>
<text x="813" y="16" font-size="7" fill="#404040" text-anchor="start" font-weight="bold">F</text>
<text x="834" y="13" font-size="11" fill="#505050" text-anchor="start" font-weight="bold">A</text>
<rect x="859.5" y="2.5" width="12" height="12" fill="none" stroke="#404040" stroke-dasharray="1,1"/>
<text x="861.5" y="13" font-size="11" fill="#505050" text-anchor="start" font-weight="bold">T</text>
<g shape-rendering="auto"><polygon points="887,5 890,2 893,5 890,8" fill="#404040"/><polygon points="895,12 898,9 901,12 898,15" fill="#404040"/><path d="M889,8 l2,2 l4,-3" stroke="#404040" fill="none"/></g>
<polygon points="907.5,7 913.5,7 910.5,10" fill="#000"/>
<rect x="919" y="0" width="1" height="20" fill="#a0a0a0"/>
<rect x="923" y="1" width="3" height="1" fill="#a8a8a8"/>
<rect x="923" y="3" width="3" height="1" fill="#a8a8a8"/>
<rect x="923" y="5" width="3" height="1" fill="#a8a8a8"/>
<rect x="923" y="7" width="3" height="1" fill="#a8a8a8"/>
<rect x="923" y="9" width="3" height="1" fill="#a8a8a8"/>
<rect x="923" y="11" width="3" height="1" fill="#a8a8a8"/>
<rect x="923" y="13" width="3" height="1" fill="#a8a8a8"/>
<rect x="923" y="15" width="3" height="1" fill="#a8a8a8"/>
<rect x="923" y="17" width="3" height="1" fill="#a8a8a8"/>
<text x="934.5" y="12" font-size="9.5" fill="#333" text-anchor="start" font-weight="normal">M1</text>
<text x="962.5" y="12" font-size="9.5" fill="#333" text-anchor="start" font-weight="normal">M5</text>
<text x="988.5" y="12" font-size="9.5" fill="#333" text-anchor="start" font-weight="normal">M15</text>
<text x="1016.5" y="12" font-size="9.5" fill="#333" text-anchor="start" font-weight="normal">M30</text>
<text x="1047.5" y="12" font-size="9.5" fill="#333" text-anchor="start" font-weight="normal">H1</text>
<rect x="1069" y="1" width="1" height="18" fill="#a0a0a0"/>
<rect x="1070" y="0" width="24" height="19" fill="#f7f7f7"/>
<text x="1074.5" y="12" font-size="9.5" fill="#333" text-anchor="start" font-weight="normal">H4</text>
<text x="1103.5" y="12" font-size="9.5" fill="#333" text-anchor="start" font-weight="normal">D1</text>
<text x="1131" y="12" font-size="9.5" fill="#333" text-anchor="start" font-weight="normal">W1</text>
<text x="1157.5" y="12" font-size="9.5" fill="#333" text-anchor="start" font-weight="normal">MN</text>
<rect x="1180" y="0" width="1" height="20" fill="#a0a0a0"/>
<g shape-rendering="auto"><circle cx="1650.5" cy="5.5" r="3.6" fill="#f4f6ff" stroke="#2a62d0" stroke-width="1.4"/><line x1="1648" y1="8" x2="1643.5" y2="12.5" stroke="#2a62d0" stroke-width="2"/><ellipse cx="1673" cy="10" rx="5.5" ry="4.5" fill="#e6e8f0" stroke="#b0b0b8" stroke-width="1"/><polygon points="1669,13 1670,17 1673,14" fill="#b0b0b8"/><circle cx="1681.5" cy="6" r="8" fill="#dc3a1c"/></g>
<text x="1681.5" y="10" font-size="11" fill="#fff" text-anchor="middle" font-weight="bold">1</text>
</svg></body></html>
